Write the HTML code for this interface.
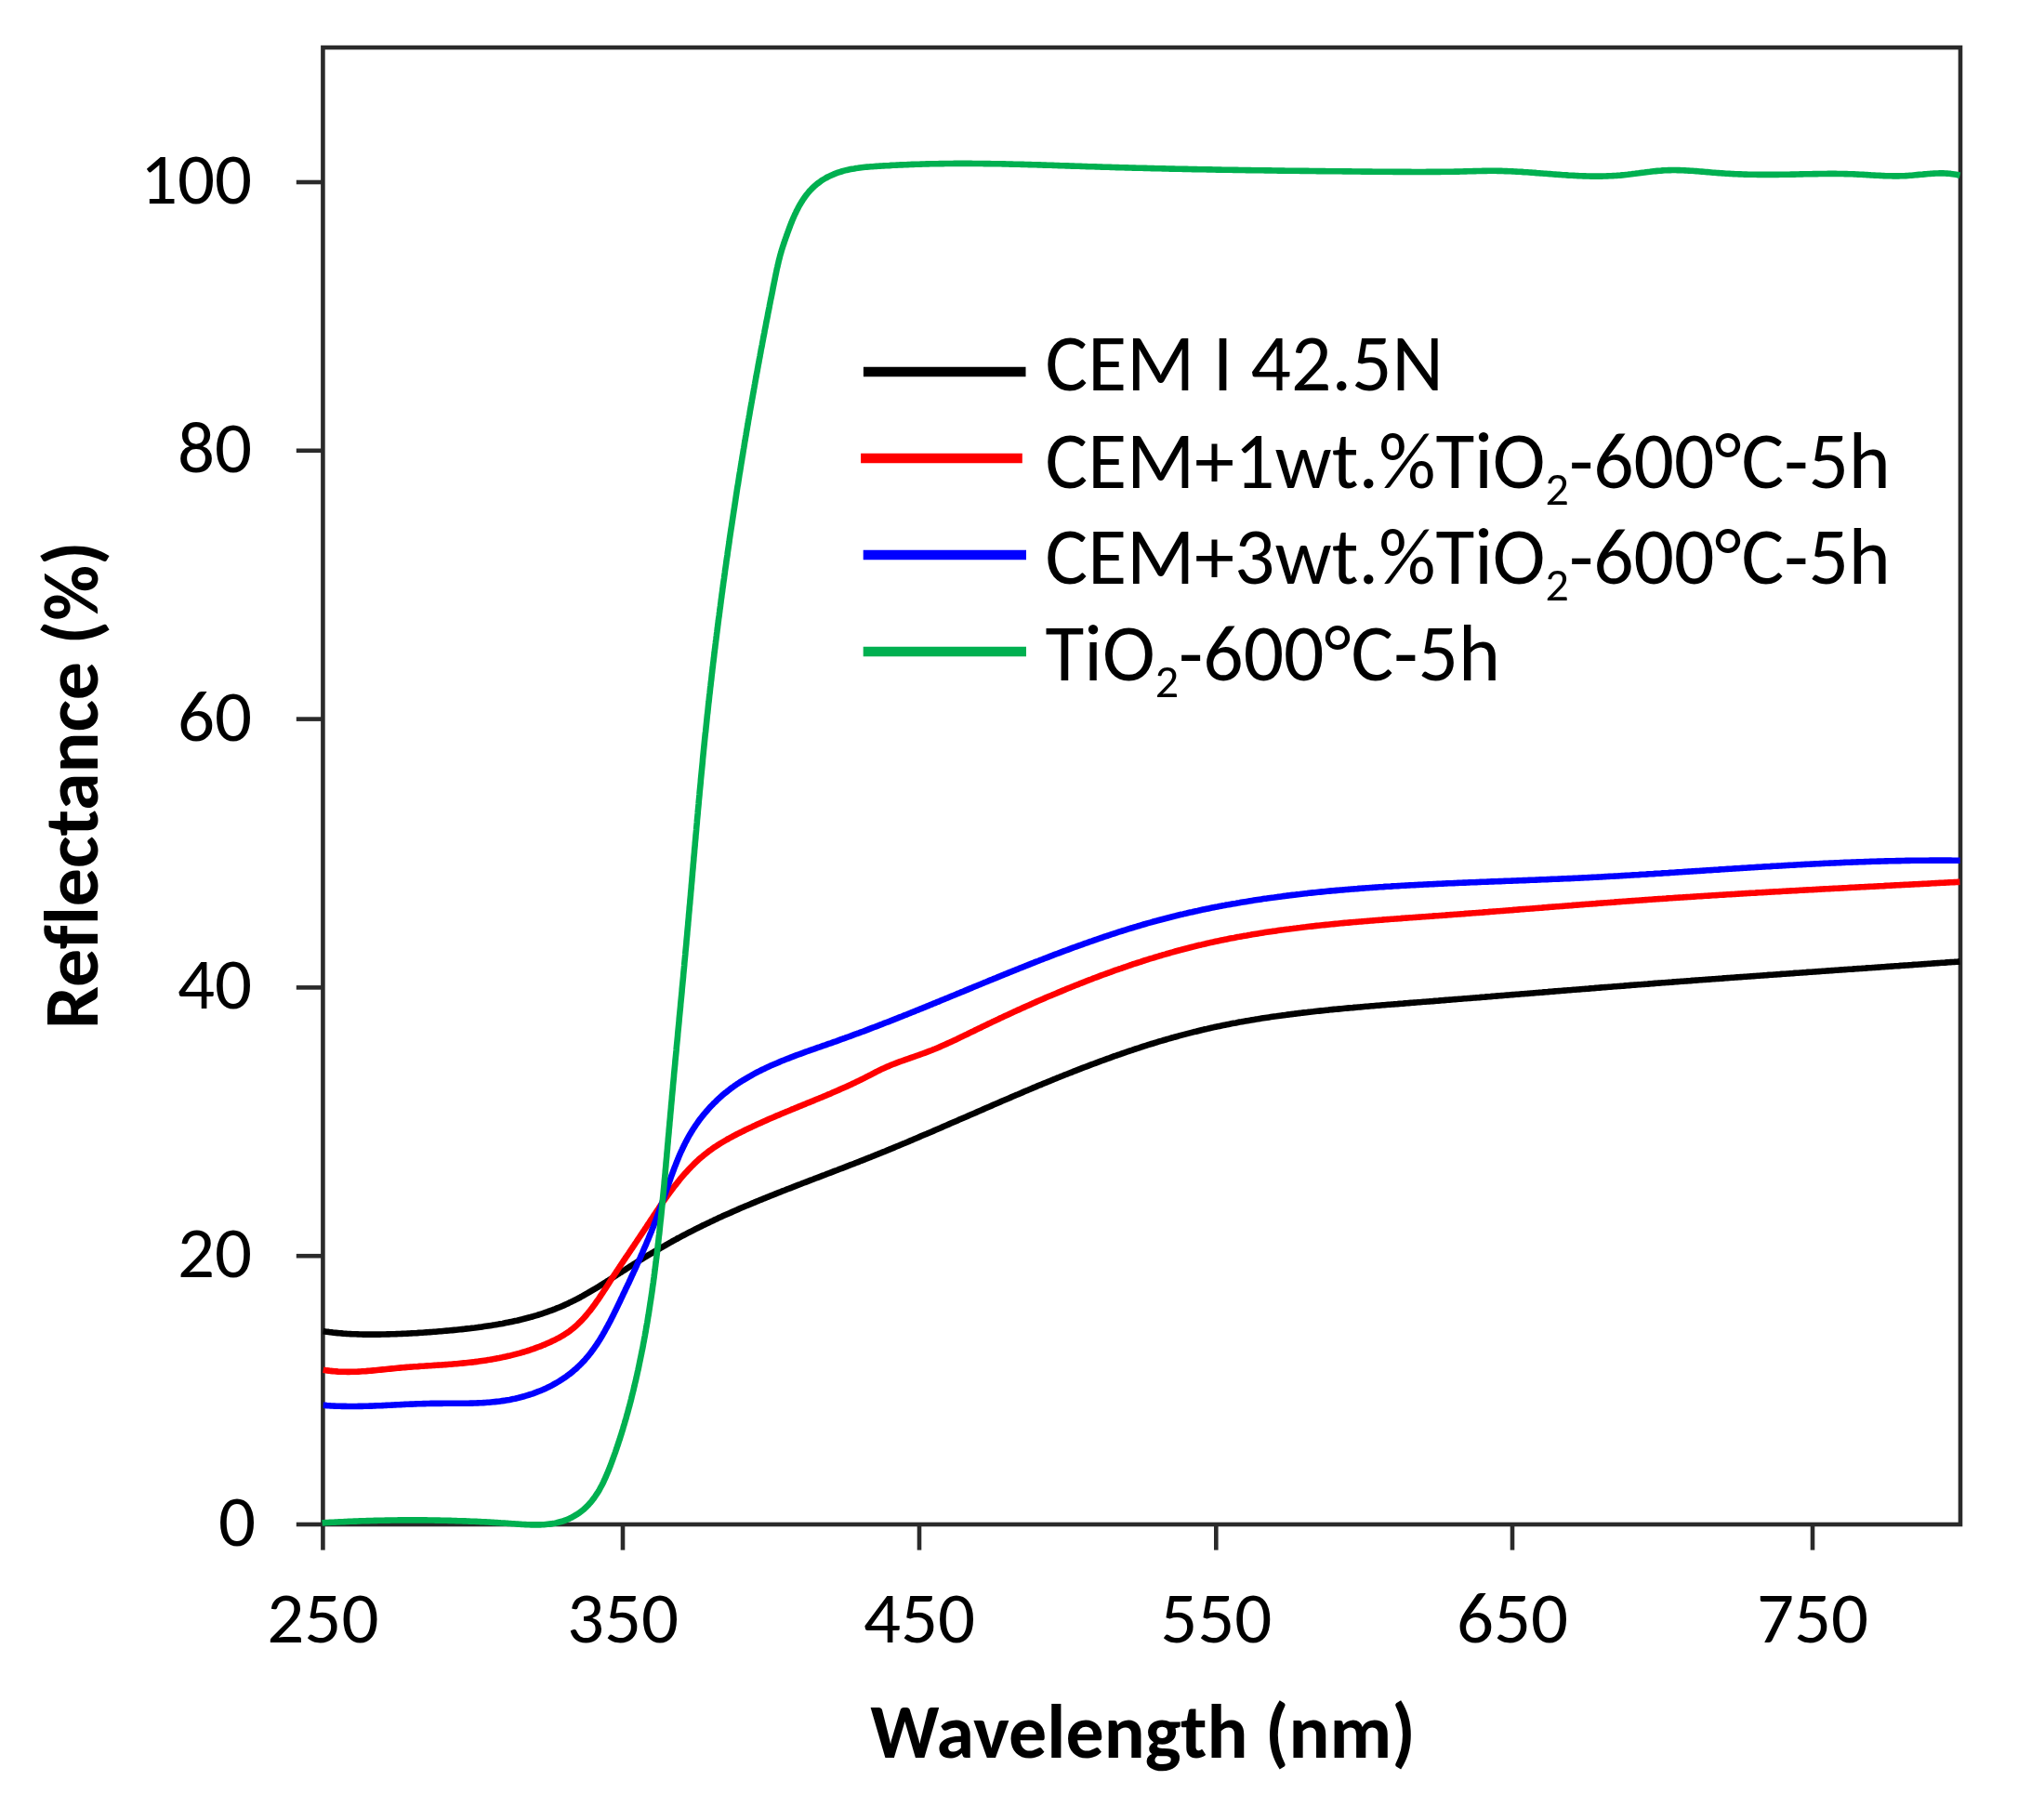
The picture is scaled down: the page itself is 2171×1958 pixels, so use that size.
<!DOCTYPE html>
<html><head><meta charset="utf-8"><title>Reflectance</title>
<style>html,body{margin:0;padding:0;background:#fff;}body{width:2171px;height:1958px;overflow:hidden;}svg{display:block;filter:blur(0.7px);} text{font-variant-ligatures:none;font-feature-settings:"liga" 0;}</style>
</head><body>
<svg xmlns="http://www.w3.org/2000/svg" width="2171" height="1958" viewBox="0 0 2171 1958">
<rect width="2171" height="1958" fill="#fff"/>
<g stroke="#2a2a2a" stroke-width="4.6" fill="none" stroke-linecap="butt">
<rect x="347.4" y="51.1" width="1761.6" height="1588.9"/>
<line x1="347.4" y1="1640" x2="347.4" y2="1667.6"/>
<line x1="670" y1="1640" x2="670" y2="1667.6"/>
<line x1="989" y1="1640" x2="989" y2="1667.6"/>
<line x1="1308.3" y1="1640" x2="1308.3" y2="1667.6"/>
<line x1="1627" y1="1640" x2="1627" y2="1667.6"/>
<line x1="1950" y1="1640" x2="1950" y2="1667.6"/>
<line x1="318.79999999999995" y1="1640" x2="347.4" y2="1640"/>
<line x1="318.79999999999995" y1="1351.2" x2="347.4" y2="1351.2"/>
<line x1="318.79999999999995" y1="1062.4" x2="347.4" y2="1062.4"/>
<line x1="318.79999999999995" y1="773.6" x2="347.4" y2="773.6"/>
<line x1="318.79999999999995" y1="484.8" x2="347.4" y2="484.8"/>
<line x1="318.79999999999995" y1="196" x2="347.4" y2="196"/>
</g>
<g font-family='"Carlito", "Liberation Sans", sans-serif' font-size="79" fill="#000">
<text x="347.4" y="1766.5" text-anchor="middle">250</text>
<text x="670" y="1766.5" text-anchor="middle">350</text>
<text x="989" y="1766.5" text-anchor="middle">450</text>
<text x="1308.3" y="1766.5" text-anchor="middle">550</text>
<text x="1627" y="1766.5" text-anchor="middle">650</text>
<text x="1950" y="1766.5" text-anchor="middle">750</text>
<text x="275" y="1663" text-anchor="end">0</text>
<text x="271" y="1374.2" text-anchor="end">20</text>
<text x="271" y="1085.4" text-anchor="end">40</text>
<text x="271" y="796.6" text-anchor="end">60</text>
<text x="271" y="507.8" text-anchor="end">80</text>
<text x="271" y="219" text-anchor="end">100</text>
</g>
<text x="1229.5" y="1891" font-family='"Carlito", "Liberation Sans", sans-serif' font-weight="bold" font-size="82" text-anchor="middle">Wavelength (nm)</text>
<text transform="translate(105 844.7) rotate(-90)" font-family='"Carlito", "Liberation Sans", sans-serif' font-weight="bold" font-size="82" text-anchor="middle">Reflectance (%)</text>
<path d="M347.6 1432.1 L349.5 1432.4 L351.5 1432.7 L353.5 1432.9 L355.4 1433.2 L357.4 1433.4 L359.3 1433.7 L361.3 1433.9 L363.3 1434.1 L365.2 1434.3 L367.2 1434.4 L369.2 1434.6 L371.1 1434.7 L373.1 1434.9 L375.1 1435.0 L377.0 1435.1 L379.0 1435.2 L381.0 1435.3 L382.9 1435.3 L384.9 1435.4 L386.9 1435.5 L388.9 1435.5 L390.8 1435.6 L392.8 1435.6 L394.8 1435.6 L396.8 1435.6 L398.8 1435.6 L400.7 1435.6 L402.7 1435.6 L404.7 1435.6 L406.7 1435.6 L408.7 1435.6 L410.7 1435.5 L412.7 1435.5 L414.6 1435.5 L416.6 1435.4 L418.6 1435.4 L420.6 1435.3 L422.6 1435.2 L424.6 1435.2 L426.6 1435.1 L428.6 1435.0 L430.6 1435.0 L432.6 1434.9 L434.6 1434.8 L436.6 1434.7 L438.6 1434.6 L440.6 1434.5 L442.6 1434.4 L444.6 1434.3 L446.6 1434.2 L448.6 1434.1 L450.6 1433.9 L452.6 1433.8 L454.6 1433.7 L456.6 1433.5 L458.6 1433.4 L460.6 1433.3 L462.6 1433.1 L464.6 1433.0 L466.6 1432.8 L468.6 1432.7 L470.6 1432.5 L472.6 1432.3 L474.6 1432.2 L476.6 1432.0 L478.6 1431.8 L480.6 1431.6 L482.6 1431.5 L484.6 1431.3 L486.6 1431.1 L488.7 1430.9 L490.7 1430.7 L492.7 1430.5 L494.7 1430.3 L496.7 1430.1 L498.7 1429.9 L500.7 1429.6 L502.7 1429.4 L504.7 1429.2 L506.7 1428.9 L508.7 1428.7 L510.7 1428.5 L512.7 1428.2 L514.7 1427.9 L516.7 1427.7 L518.7 1427.4 L520.7 1427.1 L522.7 1426.8 L524.7 1426.5 L526.7 1426.2 L528.7 1425.9 L530.7 1425.6 L532.6 1425.3 L534.6 1424.9 L536.6 1424.6 L538.6 1424.2 L540.6 1423.9 L542.5 1423.5 L544.5 1423.1 L546.5 1422.7 L548.4 1422.3 L550.4 1421.9 L552.3 1421.5 L554.3 1421.1 L556.2 1420.7 L558.2 1420.2 L560.1 1419.7 L562.0 1419.3 L564.0 1418.8 L565.9 1418.3 L567.8 1417.8 L569.7 1417.3 L571.7 1416.7 L573.6 1416.2 L575.5 1415.6 L577.4 1415.1 L579.3 1414.5 L581.2 1413.9 L583.1 1413.3 L584.9 1412.7 L586.8 1412.0 L588.7 1411.4 L590.5 1410.7 L592.4 1410.0 L594.3 1409.4 L596.1 1408.7 L597.9 1407.9 L599.8 1407.2 L601.6 1406.5 L603.4 1405.7 L605.2 1404.9 L607.1 1404.1 L608.9 1403.3 L610.7 1402.5 L612.4 1401.6 L614.2 1400.8 L616.0 1399.9 L617.8 1399.0 L619.5 1398.1 L621.3 1397.2 L623.1 1396.3 L624.8 1395.3 L626.6 1394.4 L628.3 1393.4 L630.0 1392.4 L631.8 1391.4 L633.5 1390.4 L635.2 1389.4 L636.9 1388.4 L638.6 1387.4 L640.4 1386.4 L642.1 1385.3 L643.8 1384.3 L645.5 1383.2 L647.2 1382.2 L648.9 1381.1 L650.6 1380.0 L652.3 1378.9 L654.0 1377.9 L655.7 1376.8 L657.4 1375.7 L659.1 1374.6 L660.8 1373.5 L662.4 1372.4 L664.1 1371.3 L665.8 1370.2 L667.5 1369.1 L669.2 1368.1 L670.9 1367.0 L672.6 1365.9 L674.3 1364.8 L676.0 1363.7 L677.7 1362.6 L679.4 1361.5 L681.1 1360.4 L682.8 1359.4 L684.5 1358.3 L686.2 1357.2 L687.9 1356.2 L689.6 1355.1 L691.3 1354.1 L693.1 1353.0 L694.8 1352.0 L696.5 1350.9 L698.2 1349.9 L700.0 1348.9 L701.7 1347.9 L703.4 1346.8 L705.1 1345.8 L706.9 1344.8 L708.6 1343.8 L710.3 1342.8 L712.1 1341.8 L713.8 1340.8 L715.6 1339.8 L717.3 1338.8 L719.1 1337.8 L720.8 1336.9 L722.6 1335.9 L724.3 1334.9 L726.1 1334.0 L727.8 1333.0 L729.6 1332.0 L731.4 1331.1 L733.1 1330.2 L734.9 1329.2 L736.7 1328.3 L738.4 1327.4 L740.2 1326.4 L742.0 1325.5 L743.8 1324.6 L745.6 1323.7 L747.3 1322.8 L749.1 1321.9 L750.9 1321.0 L752.7 1320.1 L754.5 1319.2 L756.3 1318.3 L758.1 1317.5 L759.9 1316.6 L761.7 1315.7 L763.5 1314.9 L765.3 1314.0 L767.1 1313.2 L768.9 1312.3 L770.7 1311.5 L772.5 1310.6 L774.3 1309.8 L776.1 1309.0 L778.0 1308.1 L779.8 1307.3 L781.6 1306.5 L783.4 1305.7 L785.2 1304.9 L787.1 1304.1 L788.9 1303.3 L790.7 1302.5 L792.5 1301.7 L794.4 1300.9 L796.2 1300.1 L798.0 1299.3 L799.9 1298.5 L801.7 1297.7 L803.6 1297.0 L805.4 1296.2 L807.2 1295.4 L809.1 1294.6 L810.9 1293.9 L812.8 1293.1 L814.6 1292.3 L816.5 1291.6 L818.3 1290.8 L820.1 1290.1 L822.0 1289.3 L823.8 1288.6 L825.7 1287.8 L827.5 1287.1 L829.4 1286.3 L831.3 1285.6 L833.1 1284.9 L835.0 1284.1 L836.8 1283.4 L838.7 1282.7 L840.5 1281.9 L842.4 1281.2 L844.3 1280.5 L846.1 1279.7 L848.0 1279.0 L849.8 1278.3 L851.7 1277.6 L853.6 1276.8 L855.4 1276.1 L857.3 1275.4 L859.2 1274.7 L861.0 1274.0 L862.9 1273.2 L864.8 1272.5 L866.6 1271.8 L868.5 1271.1 L870.4 1270.4 L872.2 1269.7 L874.1 1269.0 L876.0 1268.2 L877.8 1267.5 L879.7 1266.8 L881.6 1266.1 L883.5 1265.4 L885.3 1264.7 L887.2 1264.0 L889.1 1263.2 L890.9 1262.5 L892.8 1261.8 L894.7 1261.1 L896.5 1260.4 L898.4 1259.7 L900.3 1259.0 L902.2 1258.2 L904.0 1257.5 L905.9 1256.8 L907.8 1256.1 L909.6 1255.4 L911.5 1254.6 L913.4 1253.9 L915.2 1253.2 L917.1 1252.5 L919.0 1251.8 L920.8 1251.0 L922.7 1250.3 L924.6 1249.6 L926.4 1248.8 L928.3 1248.1 L930.2 1247.4 L932.0 1246.6 L933.9 1245.9 L935.8 1245.2 L937.6 1244.4 L939.5 1243.7 L941.4 1242.9 L943.2 1242.2 L945.1 1241.4 L946.9 1240.7 L948.8 1239.9 L950.7 1239.2 L952.5 1238.4 L954.4 1237.6 L956.2 1236.9 L958.1 1236.1 L959.9 1235.4 L961.8 1234.6 L963.7 1233.8 L965.5 1233.0 L967.4 1232.3 L969.2 1231.5 L971.1 1230.7 L972.9 1230.0 L974.8 1229.2 L976.6 1228.4 L978.5 1227.6 L980.3 1226.8 L982.2 1226.1 L984.0 1225.3 L985.9 1224.5 L987.7 1223.7 L989.6 1222.9 L991.4 1222.1 L993.3 1221.3 L995.1 1220.5 L997.0 1219.8 L998.8 1219.0 L1000.7 1218.2 L1002.5 1217.4 L1004.4 1216.6 L1006.2 1215.8 L1008.1 1215.0 L1009.9 1214.2 L1011.7 1213.4 L1013.6 1212.6 L1015.4 1211.8 L1017.3 1211.0 L1019.1 1210.2 L1021.0 1209.4 L1022.8 1208.6 L1024.7 1207.8 L1026.5 1207.0 L1028.4 1206.2 L1030.2 1205.4 L1032.0 1204.6 L1033.9 1203.8 L1035.7 1203.0 L1037.6 1202.2 L1039.4 1201.4 L1041.3 1200.6 L1043.1 1199.8 L1044.9 1199.0 L1046.8 1198.2 L1048.6 1197.4 L1050.5 1196.6 L1052.3 1195.8 L1054.2 1195.0 L1056.0 1194.2 L1057.9 1193.4 L1059.7 1192.6 L1061.5 1191.8 L1063.4 1191.0 L1065.2 1190.2 L1067.1 1189.4 L1068.9 1188.6 L1070.8 1187.8 L1072.6 1187.0 L1074.4 1186.2 L1076.3 1185.4 L1078.1 1184.6 L1080.0 1183.8 L1081.8 1183.0 L1083.7 1182.2 L1085.5 1181.4 L1087.4 1180.6 L1089.2 1179.8 L1091.1 1179.0 L1092.9 1178.2 L1094.8 1177.5 L1096.6 1176.7 L1098.4 1175.9 L1100.3 1175.1 L1102.1 1174.3 L1104.0 1173.5 L1105.8 1172.8 L1107.7 1172.0 L1109.5 1171.2 L1111.4 1170.4 L1113.2 1169.7 L1115.1 1168.9 L1116.9 1168.1 L1118.8 1167.3 L1120.7 1166.6 L1122.5 1165.8 L1124.4 1165.0 L1126.2 1164.3 L1128.1 1163.5 L1129.9 1162.8 L1131.8 1162.0 L1133.6 1161.2 L1135.5 1160.5 L1137.3 1159.7 L1139.2 1159.0 L1141.1 1158.2 L1142.9 1157.5 L1144.8 1156.7 L1146.6 1156.0 L1148.5 1155.3 L1150.4 1154.5 L1152.2 1153.8 L1154.1 1153.1 L1155.9 1152.3 L1157.8 1151.6 L1159.7 1150.9 L1161.5 1150.2 L1163.4 1149.4 L1165.3 1148.7 L1167.1 1148.0 L1169.0 1147.3 L1170.9 1146.6 L1172.7 1145.9 L1174.6 1145.2 L1176.5 1144.5 L1178.3 1143.8 L1180.2 1143.1 L1182.1 1142.4 L1184.0 1141.7 L1185.8 1141.0 L1187.7 1140.3 L1189.6 1139.6 L1191.5 1138.9 L1193.3 1138.3 L1195.2 1137.6 L1197.1 1136.9 L1199.0 1136.2 L1200.9 1135.6 L1202.8 1134.9 L1204.6 1134.3 L1206.5 1133.6 L1208.4 1133.0 L1210.3 1132.3 L1212.2 1131.7 L1214.1 1131.0 L1216.0 1130.4 L1217.8 1129.8 L1219.7 1129.1 L1221.6 1128.5 L1223.5 1127.9 L1225.4 1127.3 L1227.3 1126.6 L1229.2 1126.0 L1231.1 1125.4 L1233.0 1124.8 L1234.9 1124.2 L1236.8 1123.6 L1238.7 1123.0 L1240.6 1122.5 L1242.5 1121.9 L1244.4 1121.3 L1246.3 1120.7 L1248.2 1120.1 L1250.1 1119.6 L1252.1 1119.0 L1254.0 1118.5 L1255.9 1117.9 L1257.8 1117.4 L1259.7 1116.8 L1261.6 1116.3 L1263.6 1115.7 L1265.5 1115.2 L1267.4 1114.7 L1269.3 1114.1 L1271.2 1113.6 L1273.2 1113.1 L1275.1 1112.6 L1277.0 1112.1 L1278.9 1111.6 L1280.9 1111.1 L1282.8 1110.6 L1284.7 1110.1 L1286.7 1109.7 L1288.6 1109.2 L1290.5 1108.7 L1292.5 1108.2 L1294.4 1107.8 L1296.4 1107.3 L1298.3 1106.9 L1300.3 1106.4 L1302.2 1106.0 L1304.1 1105.6 L1306.1 1105.1 L1308.0 1104.7 L1310.0 1104.3 L1312.0 1103.9 L1313.9 1103.5 L1315.9 1103.1 L1317.8 1102.7 L1319.8 1102.3 L1321.7 1101.9 L1323.7 1101.5 L1325.7 1101.1 L1327.6 1100.7 L1329.6 1100.4 L1331.6 1100.0 L1333.5 1099.6 L1335.5 1099.3 L1337.5 1098.9 L1339.4 1098.6 L1341.4 1098.2 L1343.4 1097.9 L1345.4 1097.6 L1347.3 1097.2 L1349.3 1096.9 L1351.3 1096.6 L1353.3 1096.3 L1355.3 1095.9 L1357.2 1095.6 L1359.2 1095.3 L1361.2 1095.0 L1363.2 1094.7 L1365.2 1094.4 L1367.2 1094.1 L1369.1 1093.8 L1371.1 1093.5 L1373.1 1093.3 L1375.1 1093.0 L1377.1 1092.7 L1379.1 1092.4 L1381.1 1092.2 L1383.1 1091.9 L1385.1 1091.6 L1387.1 1091.4 L1389.1 1091.1 L1391.1 1090.9 L1393.0 1090.6 L1395.0 1090.4 L1397.0 1090.1 L1399.0 1089.9 L1401.0 1089.6 L1403.0 1089.4 L1405.0 1089.2 L1407.0 1088.9 L1409.0 1088.7 L1411.0 1088.5 L1413.0 1088.3 L1415.1 1088.0 L1417.1 1087.8 L1419.1 1087.6 L1421.1 1087.4 L1423.1 1087.2 L1425.1 1087.0 L1427.1 1086.8 L1429.1 1086.6 L1431.1 1086.3 L1433.1 1086.1 L1435.1 1085.9 L1437.1 1085.8 L1439.1 1085.6 L1441.1 1085.4 L1443.1 1085.2 L1445.1 1085.0 L1447.2 1084.8 L1449.2 1084.6 L1451.2 1084.4 L1453.2 1084.2 L1455.2 1084.1 L1457.2 1083.9 L1459.2 1083.7 L1461.2 1083.5 L1463.2 1083.4 L1465.2 1083.2 L1467.3 1083.0 L1469.3 1082.8 L1471.3 1082.7 L1473.3 1082.5 L1475.3 1082.3 L1477.3 1082.2 L1479.3 1082.0 L1481.3 1081.8 L1483.3 1081.7 L1485.4 1081.5 L1487.4 1081.3 L1489.4 1081.2 L1491.4 1081.0 L1493.4 1080.8 L1495.4 1080.7 L1497.4 1080.5 L1499.4 1080.4 L1501.4 1080.2 L1503.4 1080.1 L1505.4 1079.9 L1507.5 1079.7 L1509.5 1079.6 L1511.5 1079.4 L1513.5 1079.3 L1515.5 1079.1 L1517.5 1078.9 L1519.5 1078.8 L1521.5 1078.6 L1523.5 1078.5 L1525.5 1078.3 L1527.5 1078.2 L1529.5 1078.0 L1531.5 1077.8 L1533.5 1077.7 L1535.5 1077.5 L1537.5 1077.4 L1539.5 1077.2 L1541.5 1077.1 L1543.5 1076.9 L1545.5 1076.7 L1547.5 1076.6 L1549.5 1076.4 L1551.5 1076.3 L1553.5 1076.1 L1555.5 1075.9 L1557.5 1075.8 L1559.5 1075.6 L1561.5 1075.5 L1563.5 1075.3 L1565.5 1075.1 L1567.5 1075.0 L1569.5 1074.8 L1571.5 1074.7 L1573.5 1074.5 L1575.5 1074.3 L1577.5 1074.2 L1579.5 1074.0 L1581.5 1073.9 L1583.5 1073.7 L1585.5 1073.5 L1587.5 1073.4 L1589.5 1073.2 L1591.5 1073.1 L1593.5 1072.9 L1595.5 1072.7 L1597.4 1072.6 L1599.4 1072.4 L1601.4 1072.2 L1603.4 1072.1 L1605.4 1071.9 L1607.4 1071.8 L1609.4 1071.6 L1611.4 1071.4 L1613.4 1071.3 L1615.4 1071.1 L1617.4 1071.0 L1619.3 1070.8 L1621.3 1070.6 L1623.3 1070.5 L1625.3 1070.3 L1627.3 1070.1 L1629.3 1070.0 L1631.3 1069.8 L1633.3 1069.7 L1635.3 1069.5 L1637.3 1069.3 L1639.2 1069.2 L1641.2 1069.0 L1643.2 1068.9 L1645.2 1068.7 L1647.2 1068.5 L1649.2 1068.4 L1651.2 1068.2 L1653.2 1068.0 L1655.2 1067.9 L1657.1 1067.7 L1659.1 1067.6 L1661.1 1067.4 L1663.1 1067.2 L1665.1 1067.1 L1667.1 1066.9 L1669.1 1066.8 L1671.1 1066.6 L1673.1 1066.4 L1675.0 1066.3 L1677.0 1066.1 L1679.0 1066.0 L1681.0 1065.8 L1683.0 1065.6 L1685.0 1065.5 L1687.0 1065.3 L1689.0 1065.2 L1691.0 1065.0 L1692.9 1064.8 L1694.9 1064.7 L1696.9 1064.5 L1698.9 1064.4 L1700.9 1064.2 L1702.9 1064.0 L1704.9 1063.9 L1706.9 1063.7 L1708.9 1063.6 L1710.9 1063.4 L1712.8 1063.2 L1714.8 1063.1 L1716.8 1062.9 L1718.8 1062.8 L1720.8 1062.6 L1722.8 1062.4 L1724.8 1062.3 L1726.8 1062.1 L1728.8 1062.0 L1730.8 1061.8 L1732.8 1061.7 L1734.7 1061.5 L1736.7 1061.3 L1738.7 1061.2 L1740.7 1061.0 L1742.7 1060.9 L1744.7 1060.7 L1746.7 1060.6 L1748.7 1060.4 L1750.7 1060.3 L1752.7 1060.1 L1754.7 1059.9 L1756.7 1059.8 L1758.7 1059.6 L1760.7 1059.5 L1762.7 1059.3 L1764.7 1059.2 L1766.6 1059.0 L1768.6 1058.9 L1770.6 1058.7 L1772.6 1058.6 L1774.6 1058.4 L1776.6 1058.3 L1778.6 1058.1 L1780.6 1057.9 L1782.6 1057.8 L1784.6 1057.6 L1786.6 1057.5 L1788.6 1057.3 L1790.6 1057.2 L1792.6 1057.0 L1794.6 1056.9 L1796.6 1056.7 L1798.6 1056.6 L1800.6 1056.4 L1802.6 1056.3 L1804.6 1056.1 L1806.6 1056.0 L1808.6 1055.8 L1810.6 1055.7 L1812.6 1055.5 L1814.6 1055.4 L1816.6 1055.2 L1818.6 1055.1 L1820.6 1054.9 L1822.6 1054.8 L1824.6 1054.6 L1826.6 1054.5 L1828.6 1054.3 L1830.6 1054.2 L1832.6 1054.0 L1834.6 1053.9 L1836.6 1053.7 L1838.6 1053.6 L1840.6 1053.5 L1842.6 1053.3 L1844.6 1053.2 L1846.6 1053.0 L1848.6 1052.9 L1850.6 1052.7 L1852.6 1052.6 L1854.6 1052.4 L1856.6 1052.3 L1858.6 1052.1 L1860.6 1052.0 L1862.7 1051.8 L1864.7 1051.7 L1866.7 1051.5 L1868.7 1051.4 L1870.7 1051.3 L1872.7 1051.1 L1874.7 1051.0 L1876.7 1050.8 L1878.7 1050.7 L1880.7 1050.5 L1882.7 1050.4 L1884.7 1050.2 L1886.7 1050.1 L1888.7 1050.0 L1890.7 1049.8 L1892.7 1049.7 L1894.7 1049.5 L1896.7 1049.4 L1898.7 1049.2 L1900.7 1049.1 L1902.7 1048.9 L1904.7 1048.8 L1906.7 1048.7 L1908.7 1048.5 L1910.7 1048.4 L1912.7 1048.2 L1914.7 1048.1 L1916.7 1047.9 L1918.7 1047.8 L1920.7 1047.7 L1922.8 1047.5 L1924.8 1047.4 L1926.8 1047.2 L1928.8 1047.1 L1930.8 1046.9 L1932.8 1046.8 L1934.8 1046.7 L1936.8 1046.5 L1938.8 1046.4 L1940.8 1046.2 L1942.8 1046.1 L1944.8 1045.9 L1946.8 1045.8 L1948.8 1045.7 L1950.8 1045.5 L1952.8 1045.4 L1954.8 1045.2 L1956.8 1045.1 L1958.8 1045.0 L1960.8 1044.8 L1962.8 1044.7 L1964.8 1044.5 L1966.8 1044.4 L1968.8 1044.3 L1970.8 1044.1 L1972.8 1044.0 L1974.8 1043.8 L1976.8 1043.7 L1978.8 1043.5 L1980.8 1043.4 L1982.8 1043.3 L1984.8 1043.1 L1986.8 1043.0 L1988.8 1042.8 L1990.8 1042.7 L1992.8 1042.6 L1994.8 1042.4 L1996.8 1042.3 L1998.8 1042.1 L2000.8 1042.0 L2002.8 1041.9 L2004.8 1041.7 L2006.8 1041.6 L2008.8 1041.4 L2010.8 1041.3 L2012.8 1041.2 L2014.8 1041.0 L2016.8 1040.9 L2018.8 1040.7 L2020.8 1040.6 L2022.8 1040.5 L2024.8 1040.3 L2026.8 1040.2 L2028.8 1040.0 L2030.8 1039.9 L2032.8 1039.8 L2034.8 1039.6 L2036.8 1039.5 L2038.8 1039.3 L2040.8 1039.2 L2042.7 1039.1 L2044.7 1038.9 L2046.7 1038.8 L2048.7 1038.6 L2050.7 1038.5 L2052.7 1038.4 L2054.7 1038.2 L2056.7 1038.1 L2058.7 1037.9 L2060.7 1037.8 L2062.7 1037.7 L2064.7 1037.5 L2066.7 1037.4 L2068.7 1037.2 L2070.6 1037.1 L2072.6 1037.0 L2074.6 1036.8 L2076.6 1036.7 L2078.6 1036.5 L2080.6 1036.4 L2082.6 1036.3 L2084.6 1036.1 L2086.6 1036.0 L2088.6 1035.8 L2090.5 1035.7 L2092.5 1035.6 L2094.5 1035.4 L2096.5 1035.3 L2098.5 1035.1 L2100.5 1035.0 L2102.5 1034.9 L2104.4 1034.7 L2106.4 1034.6 L2108.4 1034.4" fill="none" stroke="#000" stroke-width="6.6" stroke-linejoin="round" stroke-linecap="butt"/>
<path d="M347.7 1473.7 L349.7 1474.1 L351.7 1474.4 L353.7 1474.6 L355.7 1474.9 L357.7 1475.1 L359.7 1475.3 L361.7 1475.4 L363.7 1475.6 L365.7 1475.7 L367.7 1475.7 L369.7 1475.8 L371.7 1475.8 L373.7 1475.9 L375.7 1475.9 L377.7 1475.8 L379.7 1475.8 L381.7 1475.7 L383.7 1475.7 L385.7 1475.6 L387.7 1475.5 L389.7 1475.3 L391.7 1475.2 L393.7 1475.1 L395.7 1474.9 L397.7 1474.8 L399.7 1474.6 L401.7 1474.4 L403.7 1474.2 L405.7 1474.0 L407.7 1473.8 L409.7 1473.6 L411.7 1473.4 L413.7 1473.2 L415.7 1473.0 L417.7 1472.8 L419.7 1472.6 L421.7 1472.4 L423.7 1472.2 L425.7 1472.0 L427.7 1471.8 L429.7 1471.6 L431.7 1471.4 L433.6 1471.3 L435.6 1471.1 L437.6 1470.9 L439.6 1470.8 L441.6 1470.6 L443.6 1470.5 L445.6 1470.3 L447.6 1470.2 L449.5 1470.1 L451.5 1469.9 L453.5 1469.8 L455.5 1469.7 L457.5 1469.5 L459.5 1469.4 L461.4 1469.3 L463.4 1469.2 L465.4 1469.0 L467.4 1468.9 L469.4 1468.8 L471.4 1468.6 L473.3 1468.5 L475.3 1468.4 L477.3 1468.2 L479.3 1468.1 L481.3 1468.0 L483.3 1467.8 L485.2 1467.7 L487.2 1467.5 L489.2 1467.3 L491.2 1467.2 L493.2 1467.0 L495.2 1466.8 L497.2 1466.6 L499.2 1466.4 L501.2 1466.2 L503.1 1466.0 L505.1 1465.8 L507.1 1465.6 L509.1 1465.4 L511.1 1465.1 L513.1 1464.9 L515.1 1464.6 L517.1 1464.3 L519.1 1464.0 L521.1 1463.7 L523.1 1463.4 L525.1 1463.1 L527.1 1462.8 L529.1 1462.4 L531.1 1462.1 L533.1 1461.7 L535.1 1461.3 L537.1 1461.0 L539.0 1460.6 L541.0 1460.1 L543.0 1459.7 L545.0 1459.3 L546.9 1458.8 L548.9 1458.4 L550.9 1457.9 L552.8 1457.4 L554.8 1456.9 L556.7 1456.4 L558.7 1455.9 L560.6 1455.3 L562.5 1454.7 L564.4 1454.2 L566.4 1453.6 L568.3 1453.0 L570.2 1452.4 L572.1 1451.7 L574.0 1451.1 L575.8 1450.4 L577.7 1449.7 L579.6 1449.0 L581.4 1448.3 L583.3 1447.6 L585.1 1446.8 L586.9 1446.1 L588.7 1445.3 L590.5 1444.5 L592.3 1443.7 L594.1 1442.8 L595.9 1442.0 L597.7 1441.1 L599.4 1440.2 L601.1 1439.3 L602.8 1438.3 L604.5 1437.4 L606.2 1436.4 L607.9 1435.3 L609.5 1434.3 L611.1 1433.2 L612.7 1432.1 L614.2 1430.9 L615.8 1429.7 L617.3 1428.5 L618.7 1427.2 L620.2 1425.9 L621.6 1424.6 L623.0 1423.2 L624.4 1421.8 L625.8 1420.4 L627.1 1419.0 L628.5 1417.5 L629.8 1416.0 L631.1 1414.5 L632.3 1413.0 L633.6 1411.4 L634.9 1409.9 L636.1 1408.3 L637.3 1406.7 L638.5 1405.1 L639.7 1403.4 L640.9 1401.8 L642.0 1400.1 L643.2 1398.5 L644.4 1396.8 L645.5 1395.1 L646.6 1393.4 L647.8 1391.7 L648.9 1390.0 L650.0 1388.3 L651.1 1386.6 L652.2 1384.9 L653.3 1383.2 L654.4 1381.5 L655.5 1379.7 L656.6 1378.0 L657.7 1376.3 L658.8 1374.6 L660.0 1372.9 L661.1 1371.2 L662.2 1369.6 L663.3 1367.9 L664.4 1366.2 L665.5 1364.5 L666.6 1362.9 L667.7 1361.2 L668.8 1359.5 L669.9 1357.9 L671.0 1356.2 L672.1 1354.6 L673.2 1352.9 L674.3 1351.3 L675.5 1349.6 L676.6 1348.0 L677.7 1346.3 L678.8 1344.7 L679.9 1343.1 L681.0 1341.4 L682.1 1339.8 L683.2 1338.1 L684.3 1336.5 L685.4 1334.8 L686.5 1333.2 L687.6 1331.5 L688.7 1329.9 L689.8 1328.2 L690.9 1326.6 L692.0 1324.9 L693.1 1323.3 L694.2 1321.6 L695.3 1320.0 L696.4 1318.3 L697.5 1316.6 L698.6 1315.0 L699.7 1313.3 L700.8 1311.6 L701.9 1310.0 L703.0 1308.3 L704.1 1306.6 L705.2 1305.0 L706.3 1303.3 L707.5 1301.6 L708.6 1300.0 L709.7 1298.3 L710.8 1296.7 L712.0 1295.0 L713.1 1293.4 L714.3 1291.7 L715.4 1290.1 L716.6 1288.4 L717.7 1286.8 L718.9 1285.2 L720.1 1283.6 L721.3 1281.9 L722.5 1280.3 L723.7 1278.7 L724.9 1277.1 L726.1 1275.5 L727.4 1274.0 L728.6 1272.4 L729.9 1270.8 L731.1 1269.3 L732.4 1267.7 L733.7 1266.2 L735.0 1264.7 L736.3 1263.2 L737.6 1261.7 L739.0 1260.2 L740.3 1258.8 L741.7 1257.3 L743.0 1255.9 L744.4 1254.5 L745.8 1253.1 L747.2 1251.7 L748.6 1250.3 L750.1 1249.0 L751.5 1247.6 L753.0 1246.3 L754.5 1245.0 L756.0 1243.8 L757.5 1242.5 L759.0 1241.3 L760.6 1240.1 L762.1 1238.9 L763.7 1237.7 L765.3 1236.6 L766.9 1235.4 L768.5 1234.3 L770.2 1233.2 L771.8 1232.1 L773.5 1231.1 L775.2 1230.0 L776.9 1229.0 L778.6 1228.0 L780.3 1227.0 L782.0 1226.0 L783.8 1225.0 L785.5 1224.0 L787.3 1223.1 L789.0 1222.1 L790.8 1221.2 L792.6 1220.3 L794.4 1219.4 L796.2 1218.5 L798.0 1217.6 L799.8 1216.7 L801.6 1215.8 L803.4 1214.9 L805.2 1214.1 L807.0 1213.2 L808.8 1212.4 L810.6 1211.5 L812.4 1210.7 L814.3 1209.8 L816.1 1209.0 L817.9 1208.2 L819.8 1207.4 L821.6 1206.5 L823.4 1205.7 L825.3 1204.9 L827.1 1204.1 L828.9 1203.3 L830.8 1202.5 L832.6 1201.7 L834.5 1200.9 L836.3 1200.1 L838.2 1199.4 L840.0 1198.6 L841.9 1197.8 L843.7 1197.0 L845.6 1196.2 L847.4 1195.5 L849.3 1194.7 L851.1 1193.9 L853.0 1193.2 L854.8 1192.4 L856.7 1191.7 L858.6 1190.9 L860.4 1190.1 L862.3 1189.4 L864.1 1188.6 L866.0 1187.9 L867.8 1187.1 L869.7 1186.3 L871.5 1185.6 L873.4 1184.8 L875.2 1184.1 L877.1 1183.3 L878.9 1182.5 L880.8 1181.8 L882.6 1181.0 L884.5 1180.3 L886.3 1179.5 L888.2 1178.7 L890.0 1177.9 L891.9 1177.2 L893.7 1176.4 L895.5 1175.6 L897.4 1174.8 L899.2 1174.0 L901.0 1173.2 L902.9 1172.4 L904.7 1171.6 L906.5 1170.8 L908.3 1170.0 L910.1 1169.2 L912.0 1168.4 L913.8 1167.5 L915.6 1166.7 L917.4 1165.8 L919.2 1165.0 L921.0 1164.1 L922.8 1163.3 L924.6 1162.4 L926.4 1161.5 L928.2 1160.6 L930.0 1159.7 L931.7 1158.8 L933.5 1157.9 L935.3 1157.0 L937.1 1156.1 L938.8 1155.1 L940.6 1154.2 L942.4 1153.3 L944.2 1152.4 L946.0 1151.5 L947.8 1150.6 L949.6 1149.8 L951.4 1149.0 L953.2 1148.1 L955.1 1147.3 L956.9 1146.6 L958.7 1145.8 L960.6 1145.0 L962.5 1144.3 L964.3 1143.6 L966.2 1142.9 L968.1 1142.2 L970.0 1141.5 L971.9 1140.8 L973.8 1140.1 L975.7 1139.5 L977.6 1138.8 L979.5 1138.1 L981.4 1137.5 L983.3 1136.8 L985.2 1136.2 L987.1 1135.5 L989.0 1134.8 L990.8 1134.2 L992.7 1133.5 L994.6 1132.8 L996.5 1132.1 L998.4 1131.4 L1000.3 1130.7 L1002.1 1130.0 L1004.0 1129.2 L1005.8 1128.5 L1007.7 1127.7 L1009.5 1126.9 L1011.4 1126.1 L1013.2 1125.3 L1015.0 1124.5 L1016.8 1123.7 L1018.7 1122.9 L1020.5 1122.1 L1022.3 1121.3 L1024.1 1120.4 L1025.9 1119.6 L1027.7 1118.7 L1029.5 1117.9 L1031.3 1117.0 L1033.1 1116.1 L1034.9 1115.3 L1036.7 1114.4 L1038.5 1113.5 L1040.3 1112.7 L1042.1 1111.8 L1043.9 1110.9 L1045.7 1110.0 L1047.5 1109.2 L1049.3 1108.3 L1051.1 1107.4 L1052.9 1106.5 L1054.7 1105.7 L1056.5 1104.8 L1058.3 1103.9 L1060.1 1103.1 L1061.9 1102.2 L1063.7 1101.3 L1065.5 1100.5 L1067.3 1099.6 L1069.1 1098.8 L1070.9 1097.9 L1072.7 1097.1 L1074.5 1096.2 L1076.3 1095.3 L1078.2 1094.5 L1080.0 1093.6 L1081.8 1092.8 L1083.6 1092.0 L1085.4 1091.1 L1087.3 1090.3 L1089.1 1089.4 L1090.9 1088.6 L1092.7 1087.8 L1094.5 1086.9 L1096.4 1086.1 L1098.2 1085.3 L1100.0 1084.4 L1101.9 1083.6 L1103.7 1082.8 L1105.5 1082.0 L1107.3 1081.2 L1109.2 1080.4 L1111.0 1079.5 L1112.8 1078.7 L1114.7 1077.9 L1116.5 1077.1 L1118.4 1076.3 L1120.2 1075.5 L1122.0 1074.7 L1123.9 1073.9 L1125.7 1073.1 L1127.6 1072.3 L1129.4 1071.5 L1131.3 1070.8 L1133.1 1070.0 L1135.0 1069.2 L1136.8 1068.4 L1138.7 1067.6 L1140.5 1066.9 L1142.4 1066.1 L1144.2 1065.3 L1146.1 1064.6 L1147.9 1063.8 L1149.8 1063.0 L1151.7 1062.3 L1153.5 1061.5 L1155.4 1060.8 L1157.2 1060.0 L1159.1 1059.3 L1161.0 1058.6 L1162.8 1057.8 L1164.7 1057.1 L1166.6 1056.4 L1168.4 1055.6 L1170.3 1054.9 L1172.2 1054.2 L1174.1 1053.5 L1175.9 1052.7 L1177.8 1052.0 L1179.7 1051.3 L1181.6 1050.6 L1183.4 1049.9 L1185.3 1049.2 L1187.2 1048.5 L1189.1 1047.8 L1191.0 1047.1 L1192.9 1046.5 L1194.7 1045.8 L1196.6 1045.1 L1198.5 1044.4 L1200.4 1043.7 L1202.3 1043.1 L1204.2 1042.4 L1206.1 1041.8 L1208.0 1041.1 L1209.9 1040.5 L1211.8 1039.8 L1213.7 1039.2 L1215.6 1038.5 L1217.4 1037.9 L1219.3 1037.2 L1221.3 1036.6 L1223.2 1036.0 L1225.1 1035.4 L1227.0 1034.8 L1228.9 1034.1 L1230.8 1033.5 L1232.7 1032.9 L1234.6 1032.3 L1236.5 1031.7 L1238.4 1031.1 L1240.3 1030.6 L1242.2 1030.0 L1244.2 1029.4 L1246.1 1028.8 L1248.0 1028.2 L1249.9 1027.7 L1251.8 1027.1 L1253.7 1026.6 L1255.7 1026.0 L1257.6 1025.5 L1259.5 1024.9 L1261.4 1024.4 L1263.4 1023.8 L1265.3 1023.3 L1267.2 1022.8 L1269.1 1022.3 L1271.1 1021.7 L1273.0 1021.2 L1274.9 1020.7 L1276.9 1020.2 L1278.8 1019.7 L1280.7 1019.2 L1282.7 1018.7 L1284.6 1018.3 L1286.6 1017.8 L1288.5 1017.3 L1290.4 1016.8 L1292.4 1016.4 L1294.3 1015.9 L1296.3 1015.5 L1298.2 1015.0 L1300.2 1014.6 L1302.1 1014.1 L1304.1 1013.7 L1306.0 1013.3 L1308.0 1012.8 L1309.9 1012.4 L1311.9 1012.0 L1313.8 1011.6 L1315.8 1011.2 L1317.7 1010.8 L1319.7 1010.4 L1321.6 1010.0 L1323.6 1009.6 L1325.6 1009.2 L1327.5 1008.9 L1329.5 1008.5 L1331.5 1008.1 L1333.4 1007.8 L1335.4 1007.4 L1337.4 1007.1 L1339.3 1006.7 L1341.3 1006.4 L1343.3 1006.0 L1345.2 1005.7 L1347.2 1005.3 L1349.2 1005.0 L1351.1 1004.7 L1353.1 1004.4 L1355.1 1004.1 L1357.1 1003.7 L1359.0 1003.4 L1361.0 1003.1 L1363.0 1002.8 L1365.0 1002.5 L1367.0 1002.2 L1368.9 1001.9 L1370.9 1001.7 L1372.9 1001.4 L1374.9 1001.1 L1376.9 1000.8 L1378.8 1000.5 L1380.8 1000.3 L1382.8 1000.0 L1384.8 999.7 L1386.8 999.5 L1388.8 999.2 L1390.8 999.0 L1392.7 998.7 L1394.7 998.5 L1396.7 998.2 L1398.7 998.0 L1400.7 997.7 L1402.7 997.5 L1404.7 997.3 L1406.7 997.0 L1408.7 996.8 L1410.7 996.6 L1412.7 996.4 L1414.7 996.1 L1416.6 995.9 L1418.6 995.7 L1420.6 995.5 L1422.6 995.3 L1424.6 995.1 L1426.6 994.9 L1428.6 994.7 L1430.6 994.5 L1432.6 994.3 L1434.6 994.1 L1436.6 993.9 L1438.6 993.7 L1440.6 993.5 L1442.6 993.3 L1444.6 993.1 L1446.6 992.9 L1448.6 992.8 L1450.6 992.6 L1452.6 992.4 L1454.6 992.2 L1456.6 992.0 L1458.6 991.9 L1460.6 991.7 L1462.6 991.5 L1464.6 991.4 L1466.6 991.2 L1468.6 991.0 L1470.6 990.9 L1472.6 990.7 L1474.7 990.5 L1476.7 990.4 L1478.7 990.2 L1480.7 990.0 L1482.7 989.9 L1484.7 989.7 L1486.7 989.6 L1488.7 989.4 L1490.7 989.3 L1492.7 989.1 L1494.7 989.0 L1496.7 988.8 L1498.7 988.7 L1500.7 988.5 L1502.7 988.4 L1504.7 988.2 L1506.7 988.1 L1508.7 987.9 L1510.7 987.8 L1512.7 987.6 L1514.7 987.5 L1516.8 987.3 L1518.8 987.2 L1520.8 987.0 L1522.8 986.9 L1524.8 986.7 L1526.8 986.6 L1528.8 986.5 L1530.8 986.3 L1532.8 986.2 L1534.8 986.0 L1536.8 985.9 L1538.8 985.7 L1540.8 985.6 L1542.8 985.4 L1544.8 985.3 L1546.8 985.2 L1548.8 985.0 L1550.8 984.9 L1552.8 984.7 L1554.8 984.6 L1556.8 984.4 L1558.8 984.3 L1560.8 984.1 L1562.8 984.0 L1564.8 983.8 L1566.8 983.7 L1568.8 983.5 L1570.8 983.4 L1572.8 983.2 L1574.8 983.1 L1576.8 982.9 L1578.8 982.8 L1580.8 982.6 L1582.8 982.5 L1584.8 982.3 L1586.8 982.2 L1588.8 982.0 L1590.8 981.9 L1592.8 981.7 L1594.8 981.6 L1596.8 981.4 L1598.8 981.2 L1600.8 981.1 L1602.8 980.9 L1604.8 980.8 L1606.8 980.6 L1608.8 980.5 L1610.8 980.3 L1612.8 980.2 L1614.8 980.0 L1616.8 979.9 L1618.8 979.7 L1620.8 979.5 L1622.8 979.4 L1624.8 979.2 L1626.8 979.1 L1628.8 978.9 L1630.8 978.8 L1632.8 978.6 L1634.7 978.4 L1636.7 978.3 L1638.7 978.1 L1640.7 978.0 L1642.7 977.8 L1644.7 977.7 L1646.7 977.5 L1648.7 977.4 L1650.7 977.2 L1652.7 977.0 L1654.7 976.9 L1656.7 976.7 L1658.7 976.6 L1660.7 976.4 L1662.7 976.3 L1664.7 976.1 L1666.7 975.9 L1668.7 975.8 L1670.6 975.6 L1672.6 975.5 L1674.6 975.3 L1676.6 975.2 L1678.6 975.0 L1680.6 974.9 L1682.6 974.7 L1684.6 974.5 L1686.6 974.4 L1688.6 974.2 L1690.6 974.1 L1692.6 973.9 L1694.6 973.8 L1696.6 973.6 L1698.6 973.5 L1700.6 973.3 L1702.6 973.1 L1704.5 973.0 L1706.5 972.8 L1708.5 972.7 L1710.5 972.5 L1712.5 972.4 L1714.5 972.2 L1716.5 972.1 L1718.5 971.9 L1720.5 971.8 L1722.5 971.6 L1724.5 971.5 L1726.5 971.3 L1728.5 971.2 L1730.5 971.0 L1732.5 970.9 L1734.5 970.7 L1736.5 970.6 L1738.5 970.4 L1740.4 970.3 L1742.4 970.1 L1744.4 970.0 L1746.4 969.8 L1748.4 969.7 L1750.4 969.5 L1752.4 969.4 L1754.4 969.3 L1756.4 969.1 L1758.4 969.0 L1760.4 968.8 L1762.4 968.7 L1764.4 968.5 L1766.4 968.4 L1768.4 968.2 L1770.4 968.1 L1772.4 968.0 L1774.4 967.8 L1776.4 967.7 L1778.4 967.5 L1780.4 967.4 L1782.4 967.3 L1784.4 967.1 L1786.4 967.0 L1788.4 966.9 L1790.4 966.7 L1792.4 966.6 L1794.4 966.4 L1796.4 966.3 L1798.4 966.2 L1800.4 966.0 L1802.4 965.9 L1804.4 965.8 L1806.4 965.6 L1808.4 965.5 L1810.4 965.4 L1812.4 965.2 L1814.4 965.1 L1816.4 965.0 L1818.4 964.9 L1820.4 964.7 L1822.4 964.6 L1824.4 964.5 L1826.4 964.3 L1828.4 964.2 L1830.4 964.1 L1832.4 964.0 L1834.4 963.8 L1836.4 963.7 L1838.4 963.6 L1840.4 963.5 L1842.4 963.3 L1844.4 963.2 L1846.4 963.1 L1848.4 963.0 L1850.4 962.8 L1852.4 962.7 L1854.4 962.6 L1856.4 962.5 L1858.4 962.3 L1860.4 962.2 L1862.4 962.1 L1864.4 962.0 L1866.4 961.9 L1868.4 961.7 L1870.4 961.6 L1872.4 961.5 L1874.4 961.4 L1876.4 961.3 L1878.4 961.1 L1880.4 961.0 L1882.4 960.9 L1884.4 960.8 L1886.4 960.7 L1888.4 960.6 L1890.4 960.4 L1892.4 960.3 L1894.4 960.2 L1896.4 960.1 L1898.4 960.0 L1900.4 959.9 L1902.4 959.8 L1904.4 959.6 L1906.5 959.5 L1908.5 959.4 L1910.5 959.3 L1912.5 959.2 L1914.5 959.1 L1916.5 959.0 L1918.5 958.8 L1920.5 958.7 L1922.5 958.6 L1924.5 958.5 L1926.5 958.4 L1928.5 958.3 L1930.5 958.2 L1932.5 958.1 L1934.5 958.0 L1936.5 957.8 L1938.5 957.7 L1940.5 957.6 L1942.5 957.5 L1944.5 957.4 L1946.5 957.3 L1948.5 957.2 L1950.5 957.1 L1952.5 957.0 L1954.5 956.9 L1956.5 956.8 L1958.5 956.6 L1960.5 956.5 L1962.5 956.4 L1964.5 956.3 L1966.5 956.2 L1968.5 956.1 L1970.5 956.0 L1972.5 955.9 L1974.5 955.8 L1976.6 955.7 L1978.6 955.6 L1980.6 955.5 L1982.6 955.4 L1984.6 955.3 L1986.6 955.2 L1988.6 955.0 L1990.6 954.9 L1992.6 954.8 L1994.6 954.7 L1996.6 954.6 L1998.6 954.5 L2000.6 954.4 L2002.6 954.3 L2004.6 954.2 L2006.6 954.1 L2008.6 954.0 L2010.6 953.9 L2012.6 953.8 L2014.6 953.7 L2016.6 953.6 L2018.6 953.5 L2020.6 953.4 L2022.6 953.3 L2024.6 953.2 L2026.6 953.1 L2028.6 952.9 L2030.6 952.8 L2032.6 952.7 L2034.6 952.6 L2036.6 952.5 L2038.6 952.4 L2040.6 952.3 L2042.6 952.2 L2044.6 952.1 L2046.6 952.0 L2048.6 951.9 L2050.6 951.8 L2052.6 951.7 L2054.6 951.6 L2056.6 951.5 L2058.6 951.4 L2060.6 951.3 L2062.6 951.2 L2064.6 951.1 L2066.5 951.0 L2068.5 950.9 L2070.5 950.8 L2072.5 950.7 L2074.5 950.6 L2076.5 950.5 L2078.5 950.3 L2080.5 950.2 L2082.5 950.1 L2084.5 950.0 L2086.5 949.9 L2088.5 949.8 L2090.5 949.7 L2092.5 949.6 L2094.5 949.5 L2096.5 949.4 L2098.5 949.3 L2100.5 949.2 L2102.5 949.1 L2104.5 949.0 L2106.5 948.9 L2108.4 948.8" fill="none" stroke="#f00" stroke-width="6.6" stroke-linejoin="round" stroke-linecap="butt"/>
<path d="M347.7 1511.8 L349.7 1511.9 L351.7 1512.1 L353.7 1512.2 L355.8 1512.4 L357.8 1512.5 L359.8 1512.6 L361.8 1512.7 L363.8 1512.7 L365.8 1512.8 L367.8 1512.9 L369.8 1512.9 L371.8 1512.9 L373.8 1513.0 L375.8 1513.0 L377.8 1513.0 L379.8 1513.0 L381.8 1513.0 L383.8 1513.0 L385.8 1512.9 L387.8 1512.9 L389.8 1512.9 L391.7 1512.8 L393.7 1512.8 L395.7 1512.7 L397.7 1512.6 L399.7 1512.6 L401.7 1512.5 L403.6 1512.4 L405.6 1512.3 L407.6 1512.3 L409.6 1512.2 L411.6 1512.1 L413.5 1512.0 L415.5 1511.9 L417.5 1511.8 L419.5 1511.7 L421.5 1511.6 L423.4 1511.5 L425.4 1511.4 L427.4 1511.3 L429.4 1511.2 L431.4 1511.1 L433.4 1511.0 L435.3 1510.9 L437.3 1510.8 L439.3 1510.7 L441.3 1510.6 L443.3 1510.6 L445.3 1510.5 L447.3 1510.4 L449.3 1510.3 L451.3 1510.3 L453.3 1510.2 L455.3 1510.1 L457.3 1510.1 L459.3 1510.0 L461.3 1510.0 L463.4 1509.9 L465.4 1509.9 L467.4 1509.9 L469.4 1509.9 L471.5 1509.9 L473.5 1509.9 L475.5 1509.9 L477.5 1509.8 L479.6 1509.8 L481.6 1509.8 L483.6 1509.8 L485.7 1509.8 L487.7 1509.8 L489.8 1509.8 L491.8 1509.8 L493.8 1509.8 L495.9 1509.8 L497.9 1509.8 L499.9 1509.8 L502.0 1509.7 L504.0 1509.7 L506.0 1509.6 L508.1 1509.6 L510.1 1509.5 L512.1 1509.5 L514.2 1509.4 L516.2 1509.3 L518.2 1509.2 L520.2 1509.1 L522.3 1509.0 L524.3 1508.8 L526.3 1508.7 L528.3 1508.5 L530.3 1508.3 L532.3 1508.1 L534.3 1507.9 L536.3 1507.7 L538.3 1507.4 L540.3 1507.1 L542.3 1506.9 L544.2 1506.5 L546.2 1506.2 L548.2 1505.9 L550.1 1505.5 L552.1 1505.1 L554.1 1504.7 L556.0 1504.2 L557.9 1503.8 L559.9 1503.3 L561.8 1502.8 L563.7 1502.3 L565.6 1501.7 L567.5 1501.1 L569.4 1500.5 L571.3 1499.9 L573.2 1499.3 L575.0 1498.6 L576.9 1497.9 L578.7 1497.2 L580.5 1496.5 L582.3 1495.8 L584.2 1495.0 L585.9 1494.2 L587.7 1493.4 L589.5 1492.5 L591.3 1491.7 L593.0 1490.8 L594.7 1489.9 L596.4 1488.9 L598.1 1488.0 L599.8 1487.0 L601.5 1486.0 L603.1 1484.9 L604.8 1483.9 L606.4 1482.8 L608.0 1481.7 L609.6 1480.6 L611.1 1479.4 L612.7 1478.3 L614.2 1477.1 L615.7 1475.9 L617.2 1474.6 L618.7 1473.3 L620.2 1472.1 L621.6 1470.7 L623.0 1469.4 L624.4 1468.0 L625.8 1466.6 L627.1 1465.2 L628.5 1463.8 L629.8 1462.3 L631.0 1460.8 L632.3 1459.3 L633.6 1457.8 L634.8 1456.3 L636.0 1454.7 L637.2 1453.1 L638.4 1451.5 L639.5 1449.9 L640.7 1448.2 L641.8 1446.6 L642.9 1444.9 L644.0 1443.2 L645.1 1441.5 L646.1 1439.8 L647.2 1438.0 L648.2 1436.3 L649.2 1434.5 L650.2 1432.8 L651.2 1431.0 L652.2 1429.2 L653.2 1427.4 L654.2 1425.6 L655.1 1423.8 L656.1 1422.0 L657.0 1420.2 L658.0 1418.3 L658.9 1416.5 L659.8 1414.7 L660.7 1412.8 L661.6 1411.0 L662.5 1409.2 L663.4 1407.3 L664.3 1405.5 L665.2 1403.6 L666.1 1401.8 L667.0 1400.0 L667.8 1398.1 L668.7 1396.3 L669.6 1394.4 L670.4 1392.6 L671.3 1390.8 L672.2 1389.0 L673.0 1387.1 L673.9 1385.3 L674.8 1383.5 L675.6 1381.7 L676.5 1379.9 L677.3 1378.1 L678.2 1376.3 L679.0 1374.4 L679.8 1372.6 L680.7 1370.8 L681.5 1369.0 L682.3 1367.2 L683.2 1365.4 L684.0 1363.6 L684.8 1361.8 L685.6 1360.0 L686.4 1358.2 L687.3 1356.4 L688.1 1354.6 L688.9 1352.8 L689.7 1350.9 L690.5 1349.1 L691.3 1347.3 L692.0 1345.5 L692.8 1343.7 L693.6 1341.9 L694.4 1340.1 L695.2 1338.3 L695.9 1336.4 L696.7 1334.6 L697.5 1332.8 L698.2 1331.0 L699.0 1329.1 L699.7 1327.3 L700.5 1325.5 L701.2 1323.6 L701.9 1321.8 L702.7 1320.0 L703.4 1318.1 L704.1 1316.3 L704.8 1314.4 L705.5 1312.6 L706.2 1310.7 L706.9 1308.8 L707.6 1307.0 L708.3 1305.1 L709.0 1303.2 L709.7 1301.4 L710.4 1299.5 L711.1 1297.6 L711.7 1295.7 L712.4 1293.8 L713.0 1291.9 L713.7 1290.0 L714.4 1288.1 L715.0 1286.2 L715.7 1284.3 L716.3 1282.4 L717.0 1280.5 L717.6 1278.6 L718.3 1276.6 L719.0 1274.7 L719.6 1272.8 L720.3 1270.9 L721.0 1269.0 L721.6 1267.1 L722.3 1265.2 L723.0 1263.3 L723.7 1261.4 L724.4 1259.5 L725.1 1257.6 L725.8 1255.7 L726.6 1253.8 L727.3 1252.0 L728.0 1250.1 L728.8 1248.2 L729.6 1246.4 L730.3 1244.5 L731.1 1242.7 L731.9 1240.8 L732.7 1239.0 L733.6 1237.2 L734.4 1235.4 L735.3 1233.6 L736.2 1231.8 L737.0 1230.0 L738.0 1228.2 L738.9 1226.4 L739.8 1224.7 L740.8 1222.9 L741.8 1221.2 L742.8 1219.5 L743.8 1217.8 L744.9 1216.1 L745.9 1214.4 L747.0 1212.8 L748.1 1211.1 L749.2 1209.5 L750.4 1207.8 L751.5 1206.2 L752.7 1204.6 L753.9 1203.0 L755.1 1201.5 L756.4 1199.9 L757.6 1198.4 L758.9 1196.9 L760.2 1195.3 L761.5 1193.9 L762.8 1192.4 L764.1 1190.9 L765.5 1189.5 L766.9 1188.1 L768.3 1186.6 L769.7 1185.3 L771.1 1183.9 L772.5 1182.5 L774.0 1181.2 L775.4 1179.9 L776.9 1178.6 L778.4 1177.3 L779.9 1176.0 L781.5 1174.8 L783.0 1173.6 L784.6 1172.4 L786.1 1171.2 L787.7 1170.0 L789.3 1168.9 L790.9 1167.7 L792.5 1166.6 L794.2 1165.5 L795.8 1164.4 L797.5 1163.4 L799.1 1162.3 L800.8 1161.3 L802.5 1160.3 L804.2 1159.3 L805.9 1158.3 L807.7 1157.3 L809.4 1156.3 L811.1 1155.4 L812.9 1154.4 L814.6 1153.5 L816.4 1152.6 L818.2 1151.7 L820.0 1150.8 L821.8 1150.0 L823.6 1149.1 L825.4 1148.3 L827.2 1147.4 L829.0 1146.6 L830.9 1145.8 L832.7 1145.0 L834.6 1144.2 L836.4 1143.4 L838.3 1142.6 L840.1 1141.8 L842.0 1141.0 L843.9 1140.3 L845.8 1139.5 L847.6 1138.8 L849.5 1138.1 L851.4 1137.3 L853.3 1136.6 L855.2 1135.9 L857.1 1135.2 L859.0 1134.5 L860.9 1133.8 L862.9 1133.1 L864.8 1132.4 L866.7 1131.7 L868.6 1131.0 L870.5 1130.3 L872.4 1129.6 L874.4 1129.0 L876.3 1128.3 L878.2 1127.6 L880.1 1126.9 L882.0 1126.3 L884.0 1125.6 L885.9 1124.9 L887.8 1124.3 L889.7 1123.6 L891.6 1122.9 L893.6 1122.3 L895.5 1121.6 L897.4 1120.9 L899.3 1120.3 L901.2 1119.6 L903.1 1118.9 L905.0 1118.2 L906.9 1117.5 L908.8 1116.9 L910.7 1116.2 L912.6 1115.5 L914.5 1114.8 L916.3 1114.1 L918.2 1113.4 L920.1 1112.7 L922.0 1112.0 L923.9 1111.4 L925.7 1110.7 L927.6 1110.0 L929.5 1109.3 L931.3 1108.6 L933.2 1107.9 L935.1 1107.1 L936.9 1106.4 L938.8 1105.7 L940.7 1105.0 L942.5 1104.3 L944.4 1103.6 L946.2 1102.9 L948.1 1102.2 L949.9 1101.4 L951.8 1100.7 L953.6 1100.0 L955.5 1099.3 L957.3 1098.6 L959.2 1097.8 L961.0 1097.1 L962.9 1096.4 L964.7 1095.7 L966.6 1094.9 L968.4 1094.2 L970.3 1093.5 L972.1 1092.7 L973.9 1092.0 L975.8 1091.3 L977.6 1090.5 L979.5 1089.8 L981.3 1089.0 L983.1 1088.3 L985.0 1087.6 L986.8 1086.8 L988.7 1086.1 L990.5 1085.3 L992.3 1084.6 L994.2 1083.8 L996.0 1083.1 L997.9 1082.3 L999.7 1081.6 L1001.5 1080.8 L1003.4 1080.1 L1005.2 1079.3 L1007.1 1078.6 L1008.9 1077.8 L1010.8 1077.1 L1012.6 1076.3 L1014.4 1075.5 L1016.3 1074.8 L1018.1 1074.0 L1020.0 1073.3 L1021.8 1072.5 L1023.7 1071.7 L1025.5 1071.0 L1027.4 1070.2 L1029.2 1069.4 L1031.1 1068.7 L1032.9 1067.9 L1034.8 1067.2 L1036.6 1066.4 L1038.5 1065.6 L1040.3 1064.9 L1042.2 1064.1 L1044.0 1063.3 L1045.9 1062.6 L1047.7 1061.8 L1049.6 1061.0 L1051.4 1060.3 L1053.3 1059.5 L1055.1 1058.8 L1057.0 1058.0 L1058.8 1057.2 L1060.7 1056.5 L1062.5 1055.7 L1064.4 1054.9 L1066.3 1054.2 L1068.1 1053.4 L1070.0 1052.7 L1071.8 1051.9 L1073.7 1051.1 L1075.6 1050.4 L1077.4 1049.6 L1079.3 1048.9 L1081.1 1048.1 L1083.0 1047.4 L1084.9 1046.6 L1086.7 1045.8 L1088.6 1045.1 L1090.5 1044.3 L1092.3 1043.6 L1094.2 1042.8 L1096.1 1042.1 L1097.9 1041.3 L1099.8 1040.6 L1101.7 1039.9 L1103.5 1039.1 L1105.4 1038.4 L1107.3 1037.6 L1109.1 1036.9 L1111.0 1036.2 L1112.9 1035.4 L1114.7 1034.7 L1116.6 1034.0 L1118.5 1033.2 L1120.4 1032.5 L1122.2 1031.8 L1124.1 1031.0 L1126.0 1030.3 L1127.9 1029.6 L1129.7 1028.9 L1131.6 1028.2 L1133.5 1027.4 L1135.4 1026.7 L1137.3 1026.0 L1139.1 1025.3 L1141.0 1024.6 L1142.9 1023.9 L1144.8 1023.2 L1146.7 1022.5 L1148.6 1021.8 L1150.4 1021.1 L1152.3 1020.4 L1154.2 1019.7 L1156.1 1019.0 L1158.0 1018.3 L1159.9 1017.6 L1161.8 1017.0 L1163.7 1016.3 L1165.6 1015.6 L1167.4 1014.9 L1169.3 1014.3 L1171.2 1013.6 L1173.1 1012.9 L1175.0 1012.3 L1176.9 1011.6 L1178.8 1011.0 L1180.7 1010.3 L1182.6 1009.7 L1184.5 1009.0 L1186.4 1008.4 L1188.3 1007.7 L1190.2 1007.1 L1192.1 1006.5 L1194.0 1005.8 L1195.9 1005.2 L1197.8 1004.6 L1199.7 1004.0 L1201.6 1003.3 L1203.5 1002.7 L1205.4 1002.1 L1207.4 1001.5 L1209.3 1000.9 L1211.2 1000.3 L1213.1 999.7 L1215.0 999.1 L1216.9 998.5 L1218.8 998.0 L1220.7 997.4 L1222.7 996.8 L1224.6 996.2 L1226.5 995.7 L1228.4 995.1 L1230.3 994.5 L1232.2 994.0 L1234.2 993.4 L1236.1 992.9 L1238.0 992.4 L1239.9 991.8 L1241.9 991.3 L1243.8 990.8 L1245.7 990.2 L1247.6 989.7 L1249.6 989.2 L1251.5 988.7 L1253.4 988.2 L1255.3 987.7 L1257.3 987.2 L1259.2 986.7 L1261.1 986.2 L1263.1 985.7 L1265.0 985.3 L1266.9 984.8 L1268.9 984.3 L1270.8 983.8 L1272.8 983.4 L1274.7 982.9 L1276.6 982.5 L1278.6 982.0 L1280.5 981.6 L1282.5 981.2 L1284.4 980.7 L1286.4 980.3 L1288.3 979.9 L1290.2 979.4 L1292.2 979.0 L1294.1 978.6 L1296.1 978.2 L1298.0 977.8 L1300.0 977.4 L1301.9 977.0 L1303.9 976.6 L1305.8 976.2 L1307.8 975.8 L1309.8 975.5 L1311.7 975.1 L1313.7 974.7 L1315.6 974.3 L1317.6 974.0 L1319.5 973.6 L1321.5 973.3 L1323.5 972.9 L1325.4 972.5 L1327.4 972.2 L1329.3 971.9 L1331.3 971.5 L1333.3 971.2 L1335.2 970.8 L1337.2 970.5 L1339.2 970.2 L1341.1 969.9 L1343.1 969.6 L1345.1 969.2 L1347.0 968.9 L1349.0 968.6 L1351.0 968.3 L1352.9 968.0 L1354.9 967.7 L1356.9 967.4 L1358.8 967.1 L1360.8 966.8 L1362.8 966.6 L1364.8 966.3 L1366.7 966.0 L1368.7 965.7 L1370.7 965.5 L1372.7 965.2 L1374.6 964.9 L1376.6 964.7 L1378.6 964.4 L1380.6 964.1 L1382.6 963.9 L1384.5 963.6 L1386.5 963.4 L1388.5 963.1 L1390.5 962.9 L1392.5 962.7 L1394.4 962.4 L1396.4 962.2 L1398.4 962.0 L1400.4 961.7 L1402.4 961.5 L1404.4 961.3 L1406.3 961.1 L1408.3 960.8 L1410.3 960.6 L1412.3 960.4 L1414.3 960.2 L1416.3 960.0 L1418.3 959.8 L1420.3 959.6 L1422.2 959.4 L1424.2 959.2 L1426.2 959.0 L1428.2 958.8 L1430.2 958.6 L1432.2 958.4 L1434.2 958.3 L1436.2 958.1 L1438.2 957.9 L1440.2 957.7 L1442.2 957.5 L1444.2 957.4 L1446.2 957.2 L1448.1 957.0 L1450.1 956.9 L1452.1 956.7 L1454.1 956.5 L1456.1 956.4 L1458.1 956.2 L1460.1 956.1 L1462.1 955.9 L1464.1 955.7 L1466.1 955.6 L1468.1 955.5 L1470.1 955.3 L1472.1 955.2 L1474.1 955.0 L1476.1 954.9 L1478.1 954.7 L1480.1 954.6 L1482.1 954.5 L1484.1 954.3 L1486.1 954.2 L1488.1 954.1 L1490.1 953.9 L1492.1 953.8 L1494.1 953.7 L1496.1 953.6 L1498.1 953.4 L1500.1 953.3 L1502.1 953.2 L1504.1 953.1 L1506.1 953.0 L1508.2 952.8 L1510.2 952.7 L1512.2 952.6 L1514.2 952.5 L1516.2 952.4 L1518.2 952.3 L1520.2 952.2 L1522.2 952.1 L1524.2 952.0 L1526.2 951.9 L1528.2 951.8 L1530.2 951.7 L1532.2 951.5 L1534.2 951.5 L1536.2 951.4 L1538.2 951.3 L1540.3 951.2 L1542.3 951.1 L1544.3 951.0 L1546.3 950.9 L1548.3 950.8 L1550.3 950.7 L1552.3 950.6 L1554.3 950.5 L1556.3 950.4 L1558.3 950.3 L1560.3 950.2 L1562.3 950.2 L1564.4 950.1 L1566.4 950.0 L1568.4 949.9 L1570.4 949.8 L1572.4 949.7 L1574.4 949.6 L1576.4 949.6 L1578.4 949.5 L1580.4 949.4 L1582.4 949.3 L1584.4 949.2 L1586.5 949.2 L1588.5 949.1 L1590.5 949.0 L1592.5 948.9 L1594.5 948.8 L1596.5 948.8 L1598.5 948.7 L1600.5 948.6 L1602.5 948.5 L1604.5 948.4 L1606.6 948.4 L1608.6 948.3 L1610.6 948.2 L1612.6 948.1 L1614.6 948.1 L1616.6 948.0 L1618.6 947.9 L1620.6 947.8 L1622.6 947.8 L1624.6 947.7 L1626.6 947.6 L1628.7 947.5 L1630.7 947.5 L1632.7 947.4 L1634.7 947.3 L1636.7 947.2 L1638.7 947.1 L1640.7 947.1 L1642.7 947.0 L1644.7 946.9 L1646.7 946.8 L1648.7 946.7 L1650.8 946.7 L1652.8 946.6 L1654.8 946.5 L1656.8 946.4 L1658.8 946.3 L1660.8 946.3 L1662.8 946.2 L1664.8 946.1 L1666.8 946.0 L1668.8 945.9 L1670.8 945.8 L1672.8 945.8 L1674.8 945.7 L1676.8 945.6 L1678.8 945.5 L1680.8 945.4 L1682.9 945.3 L1684.9 945.2 L1686.9 945.1 L1688.9 945.1 L1690.9 945.0 L1692.9 944.9 L1694.9 944.8 L1696.9 944.7 L1698.9 944.6 L1700.9 944.5 L1702.9 944.4 L1704.9 944.3 L1706.9 944.2 L1708.9 944.1 L1710.9 944.0 L1712.9 943.9 L1714.9 943.8 L1716.9 943.7 L1718.9 943.6 L1720.9 943.5 L1722.9 943.4 L1724.9 943.2 L1726.9 943.1 L1728.9 943.0 L1730.9 942.9 L1732.9 942.8 L1734.9 942.7 L1736.9 942.6 L1738.9 942.5 L1740.9 942.4 L1742.9 942.2 L1744.9 942.1 L1746.9 942.0 L1748.9 941.9 L1750.9 941.8 L1752.9 941.7 L1754.9 941.5 L1756.9 941.4 L1758.9 941.3 L1760.8 941.2 L1762.8 941.1 L1764.8 940.9 L1766.8 940.8 L1768.8 940.7 L1770.8 940.6 L1772.8 940.4 L1774.8 940.3 L1776.8 940.2 L1778.8 940.1 L1780.8 939.9 L1782.8 939.8 L1784.8 939.7 L1786.8 939.6 L1788.8 939.4 L1790.8 939.3 L1792.8 939.2 L1794.8 939.1 L1796.7 938.9 L1798.7 938.8 L1800.7 938.7 L1802.7 938.5 L1804.7 938.4 L1806.7 938.3 L1808.7 938.2 L1810.7 938.0 L1812.7 937.9 L1814.7 937.8 L1816.7 937.6 L1818.7 937.5 L1820.7 937.4 L1822.7 937.3 L1824.6 937.1 L1826.6 937.0 L1828.6 936.9 L1830.6 936.7 L1832.6 936.6 L1834.6 936.5 L1836.6 936.3 L1838.6 936.2 L1840.6 936.1 L1842.6 936.0 L1844.6 935.8 L1846.6 935.7 L1848.6 935.6 L1850.5 935.4 L1852.5 935.3 L1854.5 935.2 L1856.5 935.0 L1858.5 934.9 L1860.5 934.8 L1862.5 934.7 L1864.5 934.5 L1866.5 934.4 L1868.5 934.3 L1870.5 934.2 L1872.5 934.0 L1874.4 933.9 L1876.4 933.8 L1878.4 933.7 L1880.4 933.5 L1882.4 933.4 L1884.4 933.3 L1886.4 933.2 L1888.4 933.0 L1890.4 932.9 L1892.4 932.8 L1894.4 932.7 L1896.4 932.5 L1898.4 932.4 L1900.3 932.3 L1902.3 932.2 L1904.3 932.1 L1906.3 931.9 L1908.3 931.8 L1910.3 931.7 L1912.3 931.6 L1914.3 931.5 L1916.3 931.4 L1918.3 931.2 L1920.3 931.1 L1922.3 931.0 L1924.3 930.9 L1926.3 930.8 L1928.3 930.7 L1930.2 930.6 L1932.2 930.5 L1934.2 930.3 L1936.2 930.2 L1938.2 930.1 L1940.2 930.0 L1942.2 929.9 L1944.2 929.8 L1946.2 929.7 L1948.2 929.6 L1950.2 929.5 L1952.2 929.4 L1954.2 929.3 L1956.2 929.2 L1958.2 929.1 L1960.2 929.0 L1962.2 928.9 L1964.2 928.8 L1966.2 928.7 L1968.2 928.6 L1970.2 928.5 L1972.2 928.5 L1974.2 928.4 L1976.2 928.3 L1978.2 928.2 L1980.2 928.1 L1982.2 928.0 L1984.2 927.9 L1986.2 927.8 L1988.2 927.8 L1990.2 927.7 L1992.2 927.6 L1994.2 927.5 L1996.2 927.5 L1998.2 927.4 L2000.2 927.3 L2002.2 927.2 L2004.2 927.2 L2006.2 927.1 L2008.2 927.0 L2010.2 927.0 L2012.2 926.9 L2014.2 926.8 L2016.2 926.8 L2018.2 926.7 L2020.2 926.6 L2022.2 926.6 L2024.2 926.5 L2026.2 926.5 L2028.2 926.4 L2030.2 926.4 L2032.2 926.3 L2034.2 926.3 L2036.2 926.2 L2038.2 926.2 L2040.2 926.1 L2042.3 926.1 L2044.3 926.1 L2046.3 926.0 L2048.3 926.0 L2050.3 925.9 L2052.3 925.9 L2054.3 925.9 L2056.3 925.8 L2058.3 925.8 L2060.3 925.8 L2062.3 925.8 L2064.4 925.7 L2066.4 925.7 L2068.4 925.7 L2070.4 925.7 L2072.4 925.7 L2074.4 925.7 L2076.4 925.6 L2078.4 925.6 L2080.5 925.6 L2082.5 925.6 L2084.5 925.6 L2086.5 925.6 L2088.5 925.6 L2090.5 925.6 L2092.6 925.6 L2094.6 925.6 L2096.6 925.6 L2098.6 925.6 L2100.6 925.7 L2102.6 925.7 L2104.7 925.7 L2106.7 925.7 L2108.7 925.7" fill="none" stroke="#00f" stroke-width="6.6" stroke-linejoin="round" stroke-linecap="butt"/>
<path d="M346.6 1638.4 L348.6 1638.2 L350.7 1638.1 L352.7 1638.0 L354.7 1637.9 L356.7 1637.8 L358.7 1637.7 L360.8 1637.6 L362.8 1637.5 L364.8 1637.4 L366.8 1637.3 L368.8 1637.2 L370.8 1637.1 L372.8 1637.0 L374.9 1636.9 L376.9 1636.8 L378.9 1636.7 L380.9 1636.6 L382.9 1636.6 L384.9 1636.5 L386.9 1636.4 L388.9 1636.3 L390.9 1636.3 L392.9 1636.2 L394.9 1636.1 L396.9 1636.1 L398.9 1636.0 L400.9 1636.0 L402.9 1635.9 L404.9 1635.9 L406.9 1635.8 L408.9 1635.8 L410.9 1635.7 L412.9 1635.7 L414.9 1635.6 L416.9 1635.6 L418.8 1635.6 L420.8 1635.5 L422.8 1635.5 L424.8 1635.5 L426.8 1635.5 L428.8 1635.4 L430.8 1635.4 L432.8 1635.4 L434.8 1635.4 L436.8 1635.4 L438.8 1635.4 L440.7 1635.4 L442.7 1635.4 L444.7 1635.4 L446.7 1635.4 L448.7 1635.4 L450.7 1635.4 L452.7 1635.4 L454.7 1635.4 L456.7 1635.4 L458.7 1635.4 L460.7 1635.5 L462.6 1635.5 L464.6 1635.5 L466.6 1635.5 L468.6 1635.6 L470.6 1635.6 L472.6 1635.6 L474.6 1635.7 L476.6 1635.7 L478.6 1635.8 L480.6 1635.8 L482.6 1635.9 L484.6 1635.9 L486.6 1636.0 L488.6 1636.0 L490.6 1636.1 L492.6 1636.2 L494.5 1636.2 L496.5 1636.3 L498.5 1636.4 L500.5 1636.4 L502.6 1636.5 L504.6 1636.6 L506.6 1636.7 L508.6 1636.8 L510.6 1636.8 L512.6 1636.9 L514.6 1637.0 L516.6 1637.1 L518.6 1637.2 L520.6 1637.3 L522.6 1637.4 L524.6 1637.5 L526.6 1637.6 L528.7 1637.8 L530.7 1637.9 L532.7 1638.0 L534.7 1638.1 L536.7 1638.2 L538.7 1638.4 L540.8 1638.5 L542.8 1638.6 L544.8 1638.7 L546.8 1638.9 L548.9 1639.0 L550.9 1639.2 L552.9 1639.3 L555.0 1639.5 L557.0 1639.6 L559.0 1639.7 L561.1 1639.9 L563.1 1640.0 L565.1 1640.1 L567.2 1640.2 L569.2 1640.3 L571.2 1640.4 L573.2 1640.4 L575.2 1640.4 L577.2 1640.4 L579.2 1640.4 L581.2 1640.4 L583.2 1640.3 L585.2 1640.2 L587.2 1640.0 L589.2 1639.8 L591.1 1639.6 L593.1 1639.4 L595.0 1639.0 L597.0 1638.7 L598.9 1638.3 L600.8 1637.8 L602.7 1637.3 L604.6 1636.8 L606.5 1636.1 L608.3 1635.5 L610.2 1634.7 L612.0 1633.9 L613.8 1633.1 L615.6 1632.2 L617.4 1631.2 L619.1 1630.2 L620.8 1629.2 L622.5 1628.1 L624.1 1626.9 L625.7 1625.7 L627.2 1624.5 L628.7 1623.2 L630.1 1621.8 L631.5 1620.5 L632.9 1619.1 L634.2 1617.6 L635.5 1616.2 L636.7 1614.7 L637.9 1613.1 L639.1 1611.6 L640.2 1610.0 L641.3 1608.3 L642.4 1606.7 L643.5 1605.0 L644.5 1603.3 L645.5 1601.5 L646.4 1599.8 L647.4 1598.0 L648.3 1596.2 L649.2 1594.4 L650.0 1592.6 L650.9 1590.8 L651.7 1588.9 L652.5 1587.0 L653.3 1585.2 L654.1 1583.3 L654.9 1581.4 L655.6 1579.5 L656.4 1577.6 L657.1 1575.7 L657.8 1573.8 L658.5 1571.9 L659.2 1570.0 L659.9 1568.0 L660.6 1566.1 L661.3 1564.2 L662.0 1562.3 L662.6 1560.4 L663.3 1558.5 L663.9 1556.6 L664.6 1554.7 L665.2 1552.7 L665.8 1550.8 L666.5 1548.9 L667.1 1547.0 L667.7 1545.1 L668.3 1543.2 L668.9 1541.3 L669.5 1539.3 L670.1 1537.4 L670.6 1535.5 L671.2 1533.6 L671.8 1531.7 L672.3 1529.8 L672.9 1527.8 L673.5 1525.9 L674.0 1524.0 L674.5 1522.1 L675.1 1520.2 L675.6 1518.2 L676.1 1516.3 L676.6 1514.4 L677.2 1512.5 L677.7 1510.5 L678.2 1508.6 L678.7 1506.7 L679.2 1504.7 L679.6 1502.8 L680.1 1500.9 L680.6 1499.0 L681.1 1497.0 L681.6 1495.1 L682.0 1493.1 L682.5 1491.2 L682.9 1489.3 L683.4 1487.3 L683.9 1485.4 L684.3 1483.5 L684.7 1481.5 L685.2 1479.6 L685.6 1477.6 L686.0 1475.7 L686.5 1473.7 L686.9 1471.8 L687.3 1469.8 L687.7 1467.9 L688.1 1465.9 L688.5 1464.0 L688.9 1462.0 L689.3 1460.1 L689.7 1458.1 L690.1 1456.2 L690.5 1454.2 L690.9 1452.3 L691.3 1450.3 L691.7 1448.4 L692.0 1446.4 L692.4 1444.4 L692.8 1442.5 L693.1 1440.5 L693.5 1438.6 L693.9 1436.6 L694.2 1434.6 L694.6 1432.7 L694.9 1430.7 L695.2 1428.7 L695.6 1426.8 L695.9 1424.8 L696.3 1422.8 L696.6 1420.9 L696.9 1418.9 L697.2 1416.9 L697.6 1415.0 L697.9 1413.0 L698.2 1411.0 L698.5 1409.0 L698.8 1407.1 L699.1 1405.1 L699.4 1403.1 L699.7 1401.1 L700.0 1399.2 L700.3 1397.2 L700.6 1395.2 L700.9 1393.2 L701.2 1391.3 L701.5 1389.3 L701.8 1387.3 L702.0 1385.3 L702.3 1383.3 L702.6 1381.3 L702.9 1379.4 L703.1 1377.4 L703.4 1375.4 L703.7 1373.4 L703.9 1371.4 L704.2 1369.4 L704.4 1367.5 L704.7 1365.5 L704.9 1363.5 L705.2 1361.5 L705.4 1359.5 L705.7 1357.5 L705.9 1355.5 L706.2 1353.5 L706.4 1351.6 L706.7 1349.6 L706.9 1347.6 L707.1 1345.6 L707.4 1343.6 L707.6 1341.6 L707.8 1339.6 L708.1 1337.6 L708.3 1335.6 L708.5 1333.6 L708.7 1331.6 L708.9 1329.7 L709.2 1327.7 L709.4 1325.7 L709.6 1323.7 L709.8 1321.7 L710.0 1319.7 L710.2 1317.7 L710.4 1315.7 L710.6 1313.7 L710.9 1311.7 L711.1 1309.7 L711.3 1307.7 L711.5 1305.7 L711.7 1303.7 L711.9 1301.7 L712.1 1299.7 L712.3 1297.7 L712.5 1295.7 L712.7 1293.7 L712.8 1291.7 L713.0 1289.7 L713.2 1287.7 L713.4 1285.7 L713.6 1283.7 L713.8 1281.7 L714.0 1279.7 L714.2 1277.7 L714.4 1275.7 L714.6 1273.7 L714.7 1271.7 L714.9 1269.7 L715.1 1267.7 L715.3 1265.7 L715.5 1263.7 L715.7 1261.7 L715.8 1259.7 L716.0 1257.7 L716.2 1255.7 L716.4 1253.7 L716.5 1251.7 L716.7 1249.7 L716.9 1247.7 L717.1 1245.7 L717.3 1243.7 L717.4 1241.7 L717.6 1239.7 L717.8 1237.7 L718.0 1235.7 L718.1 1233.7 L718.3 1231.7 L718.5 1229.7 L718.7 1227.7 L718.8 1225.7 L719.0 1223.7 L719.2 1221.7 L719.4 1219.7 L719.6 1217.7 L719.7 1215.7 L719.9 1213.7 L720.1 1211.7 L720.3 1209.7 L720.4 1207.7 L720.6 1205.8 L720.8 1203.8 L721.0 1201.8 L721.1 1199.8 L721.3 1197.8 L721.5 1195.8 L721.7 1193.8 L721.9 1191.8 L722.0 1189.8 L722.2 1187.8 L722.4 1185.8 L722.6 1183.8 L722.8 1181.8 L722.9 1179.8 L723.1 1177.8 L723.3 1175.8 L723.5 1173.8 L723.7 1171.8 L723.9 1169.8 L724.0 1167.8 L724.2 1165.8 L724.4 1163.9 L724.6 1161.9 L724.8 1159.9 L725.0 1157.9 L725.1 1155.9 L725.3 1153.9 L725.5 1151.9 L725.7 1149.9 L725.9 1147.9 L726.1 1145.9 L726.3 1143.9 L726.4 1141.9 L726.6 1139.9 L726.8 1138.0 L727.0 1136.0 L727.2 1134.0 L727.4 1132.0 L727.6 1130.0 L727.7 1128.0 L727.9 1126.0 L728.1 1124.0 L728.3 1122.0 L728.5 1120.0 L728.7 1118.1 L728.9 1116.1 L729.1 1114.1 L729.2 1112.1 L729.4 1110.1 L729.6 1108.1 L729.8 1106.1 L730.0 1104.1 L730.2 1102.1 L730.4 1100.1 L730.6 1098.2 L730.7 1096.2 L730.9 1094.2 L731.1 1092.2 L731.3 1090.2 L731.5 1088.2 L731.7 1086.2 L731.9 1084.2 L732.1 1082.2 L732.2 1080.2 L732.4 1078.3 L732.6 1076.3 L732.8 1074.3 L733.0 1072.3 L733.2 1070.3 L733.4 1068.3 L733.6 1066.3 L733.7 1064.3 L733.9 1062.3 L734.1 1060.4 L734.3 1058.4 L734.5 1056.4 L734.7 1054.4 L734.9 1052.4 L735.1 1050.4 L735.2 1048.4 L735.4 1046.4 L735.6 1044.4 L735.8 1042.5 L736.0 1040.5 L736.2 1038.5 L736.3 1036.5 L736.5 1034.5 L736.7 1032.5 L736.9 1030.5 L737.1 1028.5 L737.3 1026.5 L737.4 1024.5 L737.6 1022.6 L737.8 1020.6 L738.0 1018.6 L738.2 1016.6 L738.4 1014.6 L738.5 1012.6 L738.7 1010.6 L738.9 1008.6 L739.1 1006.6 L739.3 1004.6 L739.4 1002.6 L739.6 1000.7 L739.8 998.7 L740.0 996.7 L740.2 994.7 L740.3 992.7 L740.5 990.7 L740.7 988.7 L740.9 986.7 L741.0 984.7 L741.2 982.7 L741.4 980.7 L741.6 978.7 L741.7 976.7 L741.9 974.7 L742.1 972.8 L742.3 970.8 L742.4 968.8 L742.6 966.8 L742.8 964.8 L743.0 962.8 L743.1 960.8 L743.3 958.8 L743.5 956.8 L743.7 954.8 L743.8 952.8 L744.0 950.8 L744.2 948.8 L744.4 946.8 L744.5 944.8 L744.7 942.8 L744.9 940.8 L745.0 938.9 L745.2 936.9 L745.4 934.9 L745.6 932.9 L745.7 930.9 L745.9 928.9 L746.1 926.9 L746.3 924.9 L746.4 922.9 L746.6 920.9 L746.8 918.9 L747.0 916.9 L747.1 914.9 L747.3 912.9 L747.5 910.9 L747.7 908.9 L747.8 906.9 L748.0 904.9 L748.2 902.9 L748.4 900.9 L748.5 898.9 L748.7 897.0 L748.9 895.0 L749.1 893.0 L749.2 891.0 L749.4 889.0 L749.6 887.0 L749.8 885.0 L749.9 883.0 L750.1 881.0 L750.3 879.0 L750.5 877.0 L750.7 875.0 L750.8 873.0 L751.0 871.0 L751.2 869.0 L751.4 867.0 L751.6 865.0 L751.7 863.0 L751.9 861.0 L752.1 859.0 L752.3 857.0 L752.5 855.0 L752.6 853.0 L752.8 851.0 L753.0 849.1 L753.2 847.1 L753.4 845.1 L753.6 843.1 L753.8 841.1 L753.9 839.1 L754.1 837.1 L754.3 835.1 L754.5 833.1 L754.7 831.1 L754.9 829.1 L755.1 827.1 L755.3 825.1 L755.5 823.1 L755.7 821.1 L755.9 819.1 L756.0 817.1 L756.2 815.1 L756.4 813.1 L756.6 811.1 L756.8 809.2 L757.0 807.2 L757.2 805.2 L757.4 803.2 L757.6 801.2 L757.8 799.2 L758.0 797.2 L758.2 795.2 L758.4 793.2 L758.6 791.2 L758.8 789.2 L759.1 787.2 L759.3 785.2 L759.5 783.2 L759.7 781.2 L759.9 779.3 L760.1 777.3 L760.3 775.3 L760.5 773.3 L760.7 771.3 L760.9 769.3 L761.2 767.3 L761.4 765.3 L761.6 763.3 L761.8 761.3 L762.0 759.3 L762.2 757.3 L762.5 755.3 L762.7 753.4 L762.9 751.4 L763.1 749.4 L763.3 747.4 L763.6 745.4 L763.8 743.4 L764.0 741.4 L764.2 739.4 L764.5 737.4 L764.7 735.4 L764.9 733.4 L765.2 731.5 L765.4 729.5 L765.6 727.5 L765.8 725.5 L766.1 723.5 L766.3 721.5 L766.5 719.5 L766.8 717.5 L767.0 715.5 L767.2 713.5 L767.5 711.6 L767.7 709.6 L768.0 707.6 L768.2 705.6 L768.4 703.6 L768.7 701.6 L768.9 699.6 L769.2 697.6 L769.4 695.6 L769.6 693.7 L769.9 691.7 L770.1 689.7 L770.4 687.7 L770.6 685.7 L770.9 683.7 L771.1 681.7 L771.4 679.7 L771.6 677.8 L771.9 675.8 L772.1 673.8 L772.4 671.8 L772.6 669.8 L772.9 667.8 L773.1 665.8 L773.4 663.9 L773.7 661.9 L773.9 659.9 L774.2 657.9 L774.4 655.9 L774.7 653.9 L775.0 651.9 L775.2 649.9 L775.5 648.0 L775.7 646.0 L776.0 644.0 L776.3 642.0 L776.5 640.0 L776.8 638.0 L777.1 636.1 L777.3 634.1 L777.6 632.1 L777.9 630.1 L778.1 628.1 L778.4 626.1 L778.7 624.1 L779.0 622.2 L779.2 620.2 L779.5 618.2 L779.8 616.2 L780.0 614.2 L780.3 612.2 L780.6 610.3 L780.9 608.3 L781.2 606.3 L781.4 604.3 L781.7 602.3 L782.0 600.3 L782.3 598.4 L782.6 596.4 L782.8 594.4 L783.1 592.4 L783.4 590.4 L783.7 588.5 L784.0 586.5 L784.3 584.5 L784.6 582.5 L784.8 580.5 L785.1 578.5 L785.4 576.6 L785.7 574.6 L786.0 572.6 L786.3 570.6 L786.6 568.6 L786.9 566.7 L787.2 564.7 L787.5 562.7 L787.8 560.7 L788.1 558.7 L788.4 556.8 L788.7 554.8 L789.0 552.8 L789.3 550.8 L789.6 548.8 L789.9 546.9 L790.2 544.9 L790.5 542.9 L790.8 540.9 L791.1 539.0 L791.4 537.0 L791.7 535.0 L792.0 533.0 L792.3 531.0 L792.6 529.1 L792.9 527.1 L793.2 525.1 L793.5 523.1 L793.9 521.2 L794.2 519.2 L794.5 517.2 L794.8 515.2 L795.1 513.2 L795.4 511.3 L795.7 509.3 L796.1 507.3 L796.4 505.3 L796.7 503.4 L797.0 501.4 L797.3 499.4 L797.7 497.4 L798.0 495.5 L798.3 493.5 L798.6 491.5 L799.0 489.5 L799.3 487.6 L799.6 485.6 L799.9 483.6 L800.3 481.6 L800.6 479.7 L800.9 477.7 L801.2 475.7 L801.6 473.7 L801.9 471.8 L802.2 469.8 L802.6 467.8 L802.9 465.8 L803.2 463.9 L803.6 461.9 L803.9 459.9 L804.2 458.0 L804.6 456.0 L804.9 454.0 L805.2 452.0 L805.6 450.1 L805.9 448.1 L806.3 446.1 L806.6 444.2 L806.9 442.2 L807.3 440.2 L807.6 438.2 L808.0 436.3 L808.3 434.3 L808.7 432.3 L809.0 430.4 L809.4 428.4 L809.7 426.4 L810.1 424.4 L810.4 422.5 L810.8 420.5 L811.1 418.5 L811.5 416.6 L811.8 414.6 L812.2 412.6 L812.5 410.7 L812.9 408.7 L813.2 406.7 L813.6 404.8 L813.9 402.8 L814.3 400.8 L814.7 398.9 L815.0 396.9 L815.4 394.9 L815.7 392.9 L816.1 391.0 L816.5 389.0 L816.8 387.0 L817.2 385.1 L817.6 383.1 L817.9 381.1 L818.3 379.2 L818.6 377.2 L819.0 375.2 L819.4 373.3 L819.8 371.3 L820.1 369.4 L820.5 367.4 L820.9 365.4 L821.2 363.5 L821.6 361.5 L822.0 359.5 L822.4 357.6 L822.7 355.6 L823.1 353.6 L823.5 351.7 L823.9 349.7 L824.2 347.7 L824.6 345.8 L825.0 343.8 L825.4 341.9 L825.8 339.9 L826.1 337.9 L826.5 336.0 L826.9 334.0 L827.3 332.0 L827.7 330.1 L828.0 328.1 L828.4 326.2 L828.8 324.2 L829.2 322.2 L829.6 320.3 L830.0 318.3 L830.4 316.3 L830.8 314.4 L831.2 312.4 L831.5 310.5 L831.9 308.5 L832.3 306.5 L832.7 304.6 L833.1 302.6 L833.5 300.7 L833.9 298.7 L834.3 296.7 L834.7 294.8 L835.1 292.8 L835.5 290.9 L835.9 288.9 L836.4 287.0 L836.8 285.0 L837.3 283.1 L837.7 281.1 L838.2 279.2 L838.7 277.3 L839.2 275.3 L839.7 273.4 L840.3 271.5 L840.8 269.6 L841.4 267.7 L842.0 265.8 L842.6 263.9 L843.3 262.0 L843.9 260.1 L844.6 258.2 L845.2 256.3 L845.9 254.4 L846.6 252.5 L847.2 250.7 L847.9 248.8 L848.6 246.9 L849.3 245.0 L850.0 243.1 L850.7 241.3 L851.5 239.4 L852.2 237.5 L853.0 235.7 L853.8 233.8 L854.6 232.0 L855.4 230.2 L856.3 228.4 L857.1 226.6 L858.1 224.8 L859.0 223.0 L860.0 221.2 L861.0 219.5 L862.0 217.8 L863.1 216.1 L864.1 214.4 L865.3 212.8 L866.4 211.2 L867.6 209.6 L868.9 208.0 L870.1 206.5 L871.4 205.0 L872.8 203.6 L874.2 202.2 L875.6 200.8 L877.1 199.5 L878.6 198.2 L880.2 197.0 L881.8 195.8 L883.4 194.6 L885.1 193.5 L886.8 192.5 L888.5 191.5 L890.3 190.5 L892.1 189.6 L894.0 188.7 L895.8 187.9 L897.7 187.1 L899.6 186.4 L901.5 185.7 L903.4 185.1 L905.3 184.5 L907.2 183.9 L909.2 183.4 L911.1 182.9 L913.1 182.5 L915.0 182.1 L917.0 181.7 L918.9 181.4 L920.9 181.0 L922.9 180.8 L924.9 180.5 L926.8 180.2 L928.8 180.0 L930.8 179.8 L932.8 179.6 L934.8 179.5 L936.8 179.3 L938.8 179.2 L940.8 179.0 L942.8 178.9 L944.8 178.8 L946.8 178.6 L948.8 178.5 L950.8 178.4 L952.8 178.3 L954.8 178.2 L956.8 178.1 L958.8 177.9 L960.8 177.8 L962.8 177.7 L964.8 177.6 L966.8 177.5 L968.8 177.4 L970.8 177.4 L972.8 177.3 L974.8 177.2 L976.8 177.1 L978.8 177.0 L980.8 176.9 L982.8 176.9 L984.8 176.8 L986.8 176.7 L988.8 176.7 L990.8 176.6 L992.8 176.5 L994.8 176.5 L996.8 176.4 L998.8 176.4 L1000.8 176.3 L1002.8 176.3 L1004.8 176.2 L1006.8 176.2 L1008.8 176.2 L1010.8 176.1 L1012.8 176.1 L1014.8 176.1 L1016.8 176.0 L1018.8 176.0 L1020.8 176.0 L1022.8 176.0 L1024.8 176.0 L1026.8 175.9 L1028.8 175.9 L1030.8 175.9 L1032.8 175.9 L1034.8 175.9 L1036.8 175.9 L1038.8 175.9 L1040.8 175.9 L1042.8 175.9 L1044.8 175.9 L1046.8 176.0 L1048.8 176.0 L1050.8 176.0 L1052.8 176.0 L1054.8 176.0 L1056.8 176.0 L1058.8 176.1 L1060.8 176.1 L1062.8 176.1 L1064.8 176.1 L1066.8 176.2 L1068.8 176.2 L1070.8 176.2 L1072.8 176.3 L1074.8 176.3 L1076.8 176.3 L1078.8 176.4 L1080.8 176.4 L1082.8 176.5 L1084.8 176.5 L1086.8 176.6 L1088.8 176.6 L1090.8 176.7 L1092.8 176.7 L1094.8 176.8 L1096.8 176.8 L1098.8 176.9 L1100.8 176.9 L1102.8 177.0 L1104.8 177.0 L1106.8 177.1 L1108.8 177.1 L1110.8 177.2 L1112.8 177.3 L1114.8 177.3 L1116.8 177.4 L1118.8 177.4 L1120.8 177.5 L1122.8 177.6 L1124.8 177.6 L1126.8 177.7 L1128.9 177.8 L1130.9 177.8 L1132.9 177.9 L1134.9 178.0 L1136.9 178.0 L1138.9 178.1 L1140.9 178.2 L1142.9 178.2 L1144.9 178.3 L1146.9 178.4 L1148.9 178.4 L1150.9 178.5 L1152.9 178.6 L1154.9 178.6 L1156.9 178.7 L1158.9 178.8 L1160.9 178.8 L1162.9 178.9 L1164.9 179.0 L1166.9 179.0 L1168.9 179.1 L1170.9 179.2 L1172.9 179.2 L1174.9 179.3 L1176.9 179.3 L1178.9 179.4 L1180.9 179.5 L1182.9 179.5 L1184.9 179.6 L1186.9 179.7 L1188.9 179.7 L1190.9 179.8 L1192.9 179.8 L1194.9 179.9 L1196.9 180.0 L1198.9 180.0 L1200.9 180.1 L1202.9 180.1 L1204.9 180.2 L1206.9 180.3 L1208.9 180.3 L1210.9 180.4 L1212.9 180.4 L1214.9 180.5 L1216.9 180.5 L1218.9 180.6 L1220.9 180.6 L1222.9 180.7 L1224.9 180.7 L1226.9 180.8 L1228.9 180.8 L1230.9 180.9 L1232.9 180.9 L1234.9 181.0 L1236.9 181.0 L1238.9 181.1 L1240.9 181.1 L1242.9 181.2 L1244.9 181.2 L1246.9 181.3 L1248.9 181.3 L1250.9 181.4 L1252.9 181.4 L1254.9 181.5 L1256.9 181.5 L1258.9 181.6 L1260.9 181.6 L1262.9 181.6 L1264.9 181.7 L1266.9 181.7 L1268.9 181.8 L1270.9 181.8 L1272.9 181.9 L1274.9 181.9 L1277.0 181.9 L1279.0 182.0 L1281.0 182.0 L1283.0 182.1 L1285.0 182.1 L1287.0 182.1 L1289.0 182.2 L1291.0 182.2 L1293.0 182.3 L1295.0 182.3 L1297.0 182.3 L1299.0 182.4 L1301.0 182.4 L1303.0 182.4 L1305.0 182.5 L1307.0 182.5 L1309.0 182.6 L1311.0 182.6 L1313.0 182.6 L1315.0 182.7 L1317.0 182.7 L1319.0 182.7 L1321.0 182.8 L1323.0 182.8 L1325.0 182.8 L1327.0 182.9 L1329.0 182.9 L1331.0 182.9 L1333.0 183.0 L1335.0 183.0 L1337.0 183.0 L1339.0 183.0 L1341.0 183.1 L1343.0 183.1 L1345.0 183.1 L1347.0 183.2 L1349.0 183.2 L1351.0 183.2 L1353.0 183.3 L1355.0 183.3 L1357.0 183.3 L1359.0 183.3 L1361.0 183.4 L1363.0 183.4 L1365.0 183.4 L1367.0 183.4 L1369.0 183.5 L1371.0 183.5 L1373.0 183.5 L1375.0 183.6 L1377.0 183.6 L1379.0 183.6 L1381.0 183.6 L1383.1 183.7 L1385.1 183.7 L1387.1 183.7 L1389.1 183.7 L1391.1 183.8 L1393.1 183.8 L1395.1 183.8 L1397.1 183.8 L1399.1 183.9 L1401.1 183.9 L1403.1 183.9 L1405.1 183.9 L1407.1 183.9 L1409.1 184.0 L1411.1 184.0 L1413.1 184.0 L1415.1 184.0 L1417.1 184.1 L1419.1 184.1 L1421.1 184.1 L1423.1 184.1 L1425.1 184.1 L1427.1 184.2 L1429.1 184.2 L1431.1 184.2 L1433.1 184.2 L1435.1 184.3 L1437.1 184.3 L1439.1 184.3 L1441.1 184.3 L1443.1 184.3 L1445.1 184.4 L1447.1 184.4 L1449.1 184.4 L1451.1 184.4 L1453.1 184.4 L1455.1 184.5 L1457.1 184.5 L1459.1 184.5 L1461.1 184.5 L1463.1 184.5 L1465.1 184.6 L1467.1 184.6 L1469.1 184.6 L1471.1 184.6 L1473.1 184.6 L1475.2 184.6 L1477.2 184.7 L1479.2 184.7 L1481.2 184.7 L1483.2 184.7 L1485.2 184.7 L1487.2 184.8 L1489.2 184.8 L1491.2 184.8 L1493.2 184.8 L1495.2 184.8 L1497.2 184.8 L1499.2 184.9 L1501.2 184.9 L1503.2 184.9 L1505.2 184.9 L1507.2 184.9 L1509.2 184.9 L1511.2 184.9 L1513.2 184.9 L1515.2 184.9 L1517.2 184.9 L1519.2 185.0 L1521.2 185.0 L1523.2 185.0 L1525.2 185.0 L1527.2 185.0 L1529.2 185.0 L1531.2 185.0 L1533.2 185.0 L1535.2 184.9 L1537.2 184.9 L1539.2 184.9 L1541.2 184.9 L1543.2 184.9 L1545.2 184.9 L1547.2 184.9 L1549.2 184.9 L1551.2 184.8 L1553.2 184.8 L1555.2 184.8 L1557.2 184.8 L1559.2 184.7 L1561.2 184.7 L1563.2 184.7 L1565.2 184.6 L1567.2 184.6 L1569.2 184.6 L1571.2 184.5 L1573.2 184.5 L1575.2 184.4 L1577.2 184.4 L1579.2 184.3 L1581.2 184.3 L1583.2 184.2 L1585.2 184.1 L1587.2 184.1 L1589.2 184.0 L1591.2 184.0 L1593.2 184.0 L1595.2 183.9 L1597.1 183.9 L1599.1 183.9 L1601.1 183.8 L1603.1 183.8 L1605.1 183.8 L1607.1 183.8 L1609.1 183.8 L1611.1 183.9 L1613.1 183.9 L1615.1 183.9 L1617.1 184.0 L1619.1 184.1 L1621.1 184.1 L1623.1 184.2 L1625.1 184.3 L1627.2 184.4 L1629.2 184.5 L1631.2 184.6 L1633.2 184.7 L1635.2 184.8 L1637.2 184.9 L1639.2 185.1 L1641.2 185.2 L1643.2 185.3 L1645.2 185.5 L1647.2 185.6 L1649.2 185.8 L1651.2 185.9 L1653.2 186.1 L1655.2 186.2 L1657.2 186.4 L1659.2 186.5 L1661.2 186.7 L1663.2 186.8 L1665.2 187.0 L1667.2 187.1 L1669.2 187.3 L1671.3 187.5 L1673.3 187.6 L1675.3 187.8 L1677.3 187.9 L1679.3 188.0 L1681.3 188.2 L1683.3 188.3 L1685.3 188.4 L1687.3 188.6 L1689.3 188.7 L1691.3 188.8 L1693.3 188.9 L1695.3 189.0 L1697.3 189.1 L1699.3 189.2 L1701.3 189.3 L1703.3 189.4 L1705.3 189.4 L1707.3 189.5 L1709.3 189.5 L1711.3 189.6 L1713.3 189.6 L1715.3 189.6 L1717.3 189.6 L1719.3 189.6 L1721.3 189.6 L1723.3 189.6 L1725.3 189.5 L1727.3 189.5 L1729.3 189.4 L1731.3 189.3 L1733.3 189.2 L1735.3 189.1 L1737.3 189.0 L1739.2 188.9 L1741.2 188.7 L1743.2 188.6 L1745.2 188.4 L1747.2 188.2 L1749.2 188.0 L1751.2 187.8 L1753.2 187.5 L1755.2 187.3 L1757.1 187.0 L1759.1 186.8 L1761.1 186.5 L1763.1 186.3 L1765.1 186.0 L1767.1 185.7 L1769.1 185.5 L1771.0 185.2 L1773.0 185.0 L1775.0 184.8 L1777.0 184.5 L1779.0 184.3 L1781.0 184.1 L1783.0 183.9 L1784.9 183.7 L1786.9 183.6 L1788.9 183.4 L1790.9 183.3 L1792.9 183.2 L1794.9 183.1 L1796.9 183.1 L1798.9 183.0 L1800.9 183.0 L1802.8 183.0 L1804.8 183.1 L1806.8 183.1 L1808.8 183.2 L1810.8 183.3 L1812.8 183.4 L1814.8 183.5 L1816.8 183.6 L1818.8 183.7 L1820.8 183.8 L1822.8 184.0 L1824.8 184.1 L1826.8 184.3 L1828.8 184.5 L1830.8 184.6 L1832.8 184.8 L1834.8 185.0 L1836.8 185.1 L1838.8 185.3 L1840.8 185.5 L1842.8 185.7 L1844.8 185.8 L1846.8 186.0 L1848.8 186.1 L1850.8 186.3 L1852.8 186.4 L1854.8 186.5 L1856.8 186.7 L1858.8 186.8 L1860.8 186.9 L1862.8 187.0 L1864.8 187.1 L1866.8 187.2 L1868.8 187.3 L1870.8 187.4 L1872.8 187.4 L1874.8 187.5 L1876.8 187.6 L1878.8 187.6 L1880.8 187.7 L1882.8 187.7 L1884.8 187.8 L1886.9 187.8 L1888.9 187.8 L1890.9 187.9 L1892.9 187.9 L1894.9 187.9 L1896.9 187.9 L1898.9 187.9 L1900.9 187.9 L1902.9 187.9 L1904.9 187.9 L1906.9 187.9 L1908.9 187.9 L1910.9 187.9 L1912.9 187.9 L1914.9 187.8 L1916.9 187.8 L1918.9 187.8 L1920.9 187.8 L1922.9 187.7 L1924.9 187.7 L1926.9 187.6 L1928.9 187.6 L1930.9 187.6 L1932.9 187.5 L1934.9 187.5 L1936.9 187.4 L1938.9 187.4 L1940.9 187.3 L1942.9 187.3 L1944.9 187.3 L1946.9 187.2 L1948.9 187.2 L1950.9 187.1 L1952.9 187.1 L1954.9 187.1 L1956.9 187.0 L1958.9 187.0 L1960.9 187.0 L1962.9 187.0 L1964.9 187.0 L1966.9 186.9 L1968.9 186.9 L1970.9 186.9 L1972.9 186.9 L1974.9 186.9 L1976.9 187.0 L1978.9 187.0 L1980.9 187.0 L1982.9 187.0 L1984.8 187.1 L1986.8 187.1 L1988.8 187.2 L1990.8 187.2 L1992.8 187.3 L1994.8 187.4 L1996.8 187.5 L1998.8 187.6 L2000.8 187.7 L2002.7 187.8 L2004.7 187.9 L2006.7 188.0 L2008.7 188.1 L2010.7 188.2 L2012.7 188.4 L2014.7 188.5 L2016.6 188.6 L2018.6 188.7 L2020.6 188.8 L2022.6 188.9 L2024.6 189.0 L2026.6 189.1 L2028.6 189.2 L2030.6 189.2 L2032.5 189.3 L2034.5 189.3 L2036.5 189.4 L2038.5 189.4 L2040.5 189.4 L2042.5 189.4 L2044.5 189.3 L2046.5 189.3 L2048.5 189.2 L2050.5 189.1 L2052.5 189.0 L2054.5 188.8 L2056.5 188.7 L2058.5 188.5 L2060.5 188.3 L2062.5 188.1 L2064.5 187.9 L2066.5 187.7 L2068.5 187.6 L2070.5 187.4 L2072.5 187.2 L2074.5 187.0 L2076.5 186.9 L2078.5 186.7 L2080.5 186.6 L2082.5 186.5 L2084.5 186.5 L2086.6 186.4 L2088.6 186.4 L2090.6 186.4 L2092.6 186.5 L2094.6 186.6 L2096.6 186.8 L2098.5 186.9 L2100.5 187.2 L2102.5 187.5 L2104.5 187.8 L2106.5 188.2 L2108.5 188.7" fill="none" stroke="#00b050" stroke-width="6.6" stroke-linejoin="round" stroke-linecap="butt"/>
<line x1="928.9" y1="400" x2="1103.5" y2="400" stroke="#000" stroke-width="10.5" stroke-linecap="butt"/>
<text x="1124.5" y="420" font-family='"Carlito", "Liberation Sans", sans-serif' font-size="85.7" fill="#000">CEM I 42.5N</text>
<line x1="926.1" y1="493" x2="1099.8" y2="493" stroke="#f00" stroke-width="10.5" stroke-linecap="butt"/>
<text x="1124.5" y="524.7" font-family='"Carlito", "Liberation Sans", sans-serif' font-size="85.7" fill="#000">CEM+1wt.%TiO<tspan font-size="50" dy="18.5">2</tspan><tspan dy="-18.5">-600°C-5h</tspan></text>
<line x1="928.7" y1="597" x2="1104" y2="597" stroke="#00f" stroke-width="10.5" stroke-linecap="butt"/>
<text x="1124.5" y="627.7" font-family='"Carlito", "Liberation Sans", sans-serif' font-size="85.7" fill="#000">CEM+3wt.%TiO<tspan font-size="50" dy="18.5">2</tspan><tspan dy="-18.5">-600°C-5h</tspan></text>
<line x1="928.7" y1="701" x2="1104" y2="701" stroke="#00b050" stroke-width="10.5" stroke-linecap="butt"/>
<text x="1124.5" y="731.8" font-family='"Carlito", "Liberation Sans", sans-serif' font-size="85.7" fill="#000">TiO<tspan font-size="50" dy="18.5">2</tspan><tspan dy="-18.5">-600°C-5h</tspan></text>
</svg>
</body></html>
